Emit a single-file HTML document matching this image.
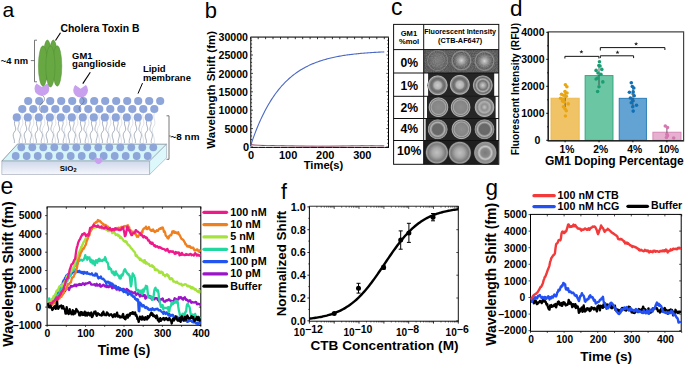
<!DOCTYPE html>
<html><head><meta charset="utf-8"><style>
html,body{margin:0;padding:0;background:#fff;}
svg{display:block;font-family:"Liberation Sans", sans-serif;}
</style></head><body>
<svg width="685" height="365" viewBox="0 0 685 365">
<rect width="685" height="365" fill="#fff"/>
<text x="2.6" y="17" font-size="21" font-weight="normal" text-anchor="start" fill="#000" >a</text>
<defs><linearGradient id="slabf" x1="0" y1="0" x2="0" y2="1"><stop offset="0" stop-color="#cfd7ea"/><stop offset="1" stop-color="#f5f7fc"/></linearGradient></defs>
<path d="M15.3,120 c-3,5 3,8 -1,12 c-3,4 1,7 0,11" fill="none" stroke="#6f7c94" stroke-width="0.6"/><path d="M18.3,120 c3,5 -3,8 1,12 c3,4 -1,7 0,11" fill="none" stroke="#7d8aa0" stroke-width="0.6"/><path d="M26.3,120 c-3,5 3,8 -1,12 c-3,4 1,7 0,11" fill="none" stroke="#6f7c94" stroke-width="0.6"/><path d="M29.3,120 c3,5 -3,8 1,12 c3,4 -1,7 0,11" fill="none" stroke="#7d8aa0" stroke-width="0.6"/><path d="M37.3,120 c-3,5 3,8 -1,12 c-3,4 1,7 0,11" fill="none" stroke="#6f7c94" stroke-width="0.6"/><path d="M40.3,120 c3,5 -3,8 1,12 c3,4 -1,7 0,11" fill="none" stroke="#7d8aa0" stroke-width="0.6"/><path d="M48.3,120 c-3,5 3,8 -1,12 c-3,4 1,7 0,11" fill="none" stroke="#6f7c94" stroke-width="0.6"/><path d="M51.3,120 c3,5 -3,8 1,12 c3,4 -1,7 0,11" fill="none" stroke="#7d8aa0" stroke-width="0.6"/><path d="M59.3,120 c-3,5 3,8 -1,12 c-3,4 1,7 0,11" fill="none" stroke="#6f7c94" stroke-width="0.6"/><path d="M62.3,120 c3,5 -3,8 1,12 c3,4 -1,7 0,11" fill="none" stroke="#7d8aa0" stroke-width="0.6"/><path d="M70.3,120 c-3,5 3,8 -1,12 c-3,4 1,7 0,11" fill="none" stroke="#6f7c94" stroke-width="0.6"/><path d="M73.3,120 c3,5 -3,8 1,12 c3,4 -1,7 0,11" fill="none" stroke="#7d8aa0" stroke-width="0.6"/><path d="M81.3,120 c-3,5 3,8 -1,12 c-3,4 1,7 0,11" fill="none" stroke="#6f7c94" stroke-width="0.6"/><path d="M84.3,120 c3,5 -3,8 1,12 c3,4 -1,7 0,11" fill="none" stroke="#7d8aa0" stroke-width="0.6"/><path d="M92.3,120 c-3,5 3,8 -1,12 c-3,4 1,7 0,11" fill="none" stroke="#6f7c94" stroke-width="0.6"/><path d="M95.3,120 c3,5 -3,8 1,12 c3,4 -1,7 0,11" fill="none" stroke="#7d8aa0" stroke-width="0.6"/><path d="M103.3,120 c-3,5 3,8 -1,12 c-3,4 1,7 0,11" fill="none" stroke="#6f7c94" stroke-width="0.6"/><path d="M106.3,120 c3,5 -3,8 1,12 c3,4 -1,7 0,11" fill="none" stroke="#7d8aa0" stroke-width="0.6"/><path d="M114.3,120 c-3,5 3,8 -1,12 c-3,4 1,7 0,11" fill="none" stroke="#6f7c94" stroke-width="0.6"/><path d="M117.3,120 c3,5 -3,8 1,12 c3,4 -1,7 0,11" fill="none" stroke="#7d8aa0" stroke-width="0.6"/><path d="M125.3,120 c-3,5 3,8 -1,12 c-3,4 1,7 0,11" fill="none" stroke="#6f7c94" stroke-width="0.6"/><path d="M128.3,120 c3,5 -3,8 1,12 c3,4 -1,7 0,11" fill="none" stroke="#7d8aa0" stroke-width="0.6"/><path d="M136.3,120 c-3,5 3,8 -1,12 c-3,4 1,7 0,11" fill="none" stroke="#6f7c94" stroke-width="0.6"/><path d="M139.3,120 c3,5 -3,8 1,12 c3,4 -1,7 0,11" fill="none" stroke="#7d8aa0" stroke-width="0.6"/><path d="M147.3,120 c-3,5 3,8 -1,12 c-3,4 1,7 0,11" fill="none" stroke="#6f7c94" stroke-width="0.6"/><path d="M150.3,120 c3,5 -3,8 1,12 c3,4 -1,7 0,11" fill="none" stroke="#7d8aa0" stroke-width="0.6"/><path d="M22.3,113 c-2,6 3,9 -1,14 c-3,5 2,9 1,16" fill="none" stroke="#b8c0cc" stroke-width="0.45"/><path d="M33.3,113 c-2,6 3,9 -1,14 c-3,5 2,9 1,16" fill="none" stroke="#b8c0cc" stroke-width="0.45"/><path d="M44.3,113 c-2,6 3,9 -1,14 c-3,5 2,9 1,16" fill="none" stroke="#b8c0cc" stroke-width="0.45"/><path d="M55.3,113 c-2,6 3,9 -1,14 c-3,5 2,9 1,16" fill="none" stroke="#b8c0cc" stroke-width="0.45"/><path d="M66.3,113 c-2,6 3,9 -1,14 c-3,5 2,9 1,16" fill="none" stroke="#b8c0cc" stroke-width="0.45"/><path d="M77.3,113 c-2,6 3,9 -1,14 c-3,5 2,9 1,16" fill="none" stroke="#b8c0cc" stroke-width="0.45"/><path d="M88.3,113 c-2,6 3,9 -1,14 c-3,5 2,9 1,16" fill="none" stroke="#b8c0cc" stroke-width="0.45"/><path d="M99.3,113 c-2,6 3,9 -1,14 c-3,5 2,9 1,16" fill="none" stroke="#b8c0cc" stroke-width="0.45"/><path d="M110.3,113 c-2,6 3,9 -1,14 c-3,5 2,9 1,16" fill="none" stroke="#b8c0cc" stroke-width="0.45"/><path d="M121.3,113 c-2,6 3,9 -1,14 c-3,5 2,9 1,16" fill="none" stroke="#b8c0cc" stroke-width="0.45"/><path d="M132.3,113 c-2,6 3,9 -1,14 c-3,5 2,9 1,16" fill="none" stroke="#b8c0cc" stroke-width="0.45"/><path d="M143.3,113 c-2,6 3,9 -1,14 c-3,5 2,9 1,16" fill="none" stroke="#b8c0cc" stroke-width="0.45"/><path d="M154.3,113 c-2,6 3,9 -1,14 c-3,5 2,9 1,16" fill="none" stroke="#b8c0cc" stroke-width="0.45"/>
<polygon points="1.8,161.1 17.5,144 166.6,144.2 149.6,161.1" fill="#d5f5f8" stroke="#5a6070" stroke-width="0.6"/>
<polygon points="1.8,161.1 149.6,161.1 149.6,174.5 1.8,174.5" fill="url(#slabf)" stroke="#9aa3b4" stroke-width="0.6"/>
<polygon points="149.6,161.1 166.6,144.2 166.6,157.8 149.6,174.5" fill="#dcf8fa" stroke="#9aa3b4" stroke-width="0.6"/>
<circle cx="28.2" cy="101" r="4.1" fill="#8ea5da"/><circle cx="39.2" cy="101" r="4.1" fill="#8ea5da"/><circle cx="50.2" cy="101" r="4.1" fill="#8ea5da"/><circle cx="61.2" cy="101" r="4.1" fill="#8ea5da"/><circle cx="72.2" cy="101" r="4.1" fill="#8ea5da"/><circle cx="83.2" cy="101" r="4.1" fill="#8ea5da"/><circle cx="94.2" cy="101" r="4.1" fill="#8ea5da"/><circle cx="105.2" cy="101" r="4.1" fill="#8ea5da"/><circle cx="116.2" cy="101" r="4.1" fill="#8ea5da"/><circle cx="127.2" cy="101" r="4.1" fill="#8ea5da"/><circle cx="138.2" cy="101" r="4.1" fill="#8ea5da"/><circle cx="149.2" cy="101" r="4.1" fill="#8ea5da"/><circle cx="160.2" cy="101" r="4.1" fill="#8ea5da"/><circle cx="22.3" cy="109" r="4.1" fill="#8ea5da"/><circle cx="33.3" cy="109" r="4.1" fill="#8ea5da"/><circle cx="44.3" cy="109" r="4.1" fill="#8ea5da"/><circle cx="55.3" cy="109" r="4.1" fill="#8ea5da"/><circle cx="66.3" cy="109" r="4.1" fill="#8ea5da"/><circle cx="77.3" cy="109" r="4.1" fill="#8ea5da"/><circle cx="88.3" cy="109" r="4.1" fill="#8ea5da"/><circle cx="99.3" cy="109" r="4.1" fill="#8ea5da"/><circle cx="110.3" cy="109" r="4.1" fill="#8ea5da"/><circle cx="121.3" cy="109" r="4.1" fill="#8ea5da"/><circle cx="132.3" cy="109" r="4.1" fill="#8ea5da"/><circle cx="143.3" cy="109" r="4.1" fill="#8ea5da"/><circle cx="154.3" cy="109" r="4.1" fill="#8ea5da"/><circle cx="16.8" cy="117.4" r="4.1" fill="#8ea5da"/><circle cx="27.8" cy="117.4" r="4.1" fill="#8ea5da"/><circle cx="38.8" cy="117.4" r="4.1" fill="#8ea5da"/><circle cx="49.8" cy="117.4" r="4.1" fill="#8ea5da"/><circle cx="60.8" cy="117.4" r="4.1" fill="#8ea5da"/><circle cx="71.8" cy="117.4" r="4.1" fill="#8ea5da"/><circle cx="82.8" cy="117.4" r="4.1" fill="#8ea5da"/><circle cx="93.8" cy="117.4" r="4.1" fill="#8ea5da"/><circle cx="104.8" cy="117.4" r="4.1" fill="#8ea5da"/><circle cx="115.8" cy="117.4" r="4.1" fill="#8ea5da"/><circle cx="126.8" cy="117.4" r="4.1" fill="#8ea5da"/><circle cx="137.8" cy="117.4" r="4.1" fill="#8ea5da"/><circle cx="148.8" cy="117.4" r="4.1" fill="#8ea5da"/><circle cx="21.3" cy="147.3" r="3.9" fill="#8ea5da"/><circle cx="32.3" cy="147.3" r="3.9" fill="#8ea5da"/><circle cx="43.3" cy="147.3" r="3.9" fill="#8ea5da"/><circle cx="54.3" cy="147.3" r="3.9" fill="#8ea5da"/><circle cx="65.3" cy="147.3" r="3.9" fill="#8ea5da"/><circle cx="76.3" cy="147.3" r="3.9" fill="#8ea5da"/><circle cx="87.3" cy="147.3" r="3.9" fill="#8ea5da"/><circle cx="98.3" cy="147.3" r="3.9" fill="#8ea5da"/><circle cx="109.3" cy="147.3" r="3.9" fill="#8ea5da"/><circle cx="120.3" cy="147.3" r="3.9" fill="#8ea5da"/><circle cx="131.3" cy="147.3" r="3.9" fill="#8ea5da"/><circle cx="142.3" cy="147.3" r="3.9" fill="#8ea5da"/><circle cx="153.3" cy="147.3" r="3.9" fill="#8ea5da"/><circle cx="15.7" cy="156" r="3.9" fill="#8ea5da"/><circle cx="26.7" cy="156" r="3.9" fill="#8ea5da"/><circle cx="37.7" cy="156" r="3.9" fill="#8ea5da"/><circle cx="48.7" cy="156" r="3.9" fill="#8ea5da"/><circle cx="59.7" cy="156" r="3.9" fill="#8ea5da"/><circle cx="70.7" cy="156" r="3.9" fill="#8ea5da"/><circle cx="81.7" cy="156" r="3.9" fill="#8ea5da"/><circle cx="92.7" cy="156" r="3.9" fill="#8ea5da"/><circle cx="103.7" cy="156" r="3.9" fill="#8ea5da"/><circle cx="114.7" cy="156" r="3.9" fill="#8ea5da"/><circle cx="125.7" cy="156" r="3.9" fill="#8ea5da"/><circle cx="136.7" cy="156" r="3.9" fill="#8ea5da"/><circle cx="147.7" cy="156" r="3.9" fill="#8ea5da"/>
<path d="M42,95 c4,3 3,6 -1,9 c-3,3 -2,6 1,9" fill="none" stroke="#555" stroke-width="0.5"/>
<path d="M81,97 c4,2 4,5 0,8 c-3,3 -2,5 0,7" fill="none" stroke="#555" stroke-width="0.5"/>
<path d="M41.90,87.10 L47.22,83.46 A7.4,7.4 0 1 1 36.58,83.46 Z" fill="#c8a0ee"/>
<path d="M80.60,88.70 L85.92,85.06 A7.4,7.4 0 1 1 75.28,85.06 Z" fill="#c8a0ee"/>
<path d="M98.50,158.50 L101.23,157.36 A3.8,3.8 0 1 1 95.77,157.36 Z" fill="#c8a0ee"/>
<g fill="#68a843" stroke="#4e8a30" stroke-width="0.45"><ellipse cx="47.4" cy="60" rx="4.2" ry="20"/><ellipse cx="53.3" cy="60" rx="4.2" ry="20"/><ellipse cx="43" cy="66" rx="4.6" ry="20.3"/><ellipse cx="57.2" cy="66" rx="4.6" ry="20.3"/><ellipse cx="50.4" cy="66.5" rx="4.6" ry="20.5"/></g>
<path d="M37,40.2 H34.5 V81.8 H37 M34.5,60.6 H30.8" fill="none" stroke="#555" stroke-width="0.8"/>
<text x="0.8" y="63.7" font-size="9.4" font-weight="bold" text-anchor="start" fill="#000" >~4 nm</text>
<path d="M166.5,115.8 H169 V159.3 H166.5 M169,136 H170.8" fill="none" stroke="#555" stroke-width="0.8"/>
<text x="170.6" y="140.1" font-size="9.9" font-weight="bold" text-anchor="start" fill="#000" >~8 nm</text>
<path d="M60.5,32.8 L55.5,40.5" stroke="#000" stroke-width="1.1"/>
<text x="60.5" y="32.1" font-size="10.4" font-weight="bold" text-anchor="start" fill="#000" >Cholera Toxin B</text>
<path d="M90.3,72.2 L82.8,83.6" stroke="#000" stroke-width="1.1"/>
<text x="72.1" y="58.5" font-size="9.4" font-weight="bold" text-anchor="start" fill="#000" >GM1</text>
<text x="72.1" y="67.4" font-size="9.7" font-weight="bold" text-anchor="start" fill="#000" >ganglioside</text>
<path d="M142.5,83.1 L138,93.6" stroke="#000" stroke-width="1"/>
<text x="142.9" y="72.1" font-size="9.5" font-weight="bold" text-anchor="start" fill="#000" >Lipid</text>
<text x="142.9" y="81.4" font-size="9.5" font-weight="bold" text-anchor="start" fill="#000" >membrane</text>
<text x="59.8" y="170.8" font-size="7.9" font-weight="bold" text-anchor="start" fill="#000" >SiO<tspan font-size="5.6" dy="1.6">2</tspan></text>
<text x="204.8" y="17.5" font-size="22" font-weight="normal" text-anchor="start" fill="#000" >b</text>
<rect x="250.8" y="37.2" width="137.7" height="110.2" fill="none" stroke="#000" stroke-width="1"/>
<path d="M250.8,37.2 H388.5" stroke="#666" stroke-width="1.4"/>
<text x="243" y="151.1" font-size="11" font-weight="bold" text-anchor="start" fill="#000" >0</text>
<text x="248" y="132.7" font-size="10.6" font-weight="bold" text-anchor="end" fill="#000" >5000</text>
<text x="248" y="114.3" font-size="10.6" font-weight="bold" text-anchor="end" fill="#000" >10000</text>
<text x="248" y="95.9" font-size="10.6" font-weight="bold" text-anchor="end" fill="#000" >15000</text>
<text x="248" y="77.5" font-size="10.6" font-weight="bold" text-anchor="end" fill="#000" >20000</text>
<text x="248" y="59.1" font-size="10.6" font-weight="bold" text-anchor="end" fill="#000" >25000</text>
<text x="248" y="40.70000000000001" font-size="10.6" font-weight="bold" text-anchor="end" fill="#000" >30000</text>
<path d="M250.8,147.0 h2.2" stroke="#000" stroke-width="0.7"/><path d="M388.5,147.0 h-2.2" stroke="#000" stroke-width="0.7"/>
<path d="M250.8,143.3 h1.3" stroke="#000" stroke-width="0.7"/><path d="M388.5,143.3 h-1.3" stroke="#000" stroke-width="0.7"/>
<path d="M250.8,139.6 h1.3" stroke="#000" stroke-width="0.7"/><path d="M388.5,139.6 h-1.3" stroke="#000" stroke-width="0.7"/>
<path d="M250.8,136.0 h1.3" stroke="#000" stroke-width="0.7"/><path d="M388.5,136.0 h-1.3" stroke="#000" stroke-width="0.7"/>
<path d="M250.8,132.3 h1.3" stroke="#000" stroke-width="0.7"/><path d="M388.5,132.3 h-1.3" stroke="#000" stroke-width="0.7"/>
<path d="M250.8,128.6 h2.2" stroke="#000" stroke-width="0.7"/><path d="M388.5,128.6 h-2.2" stroke="#000" stroke-width="0.7"/>
<path d="M250.8,124.9 h1.3" stroke="#000" stroke-width="0.7"/><path d="M388.5,124.9 h-1.3" stroke="#000" stroke-width="0.7"/>
<path d="M250.8,121.2 h1.3" stroke="#000" stroke-width="0.7"/><path d="M388.5,121.2 h-1.3" stroke="#000" stroke-width="0.7"/>
<path d="M250.8,117.6 h1.3" stroke="#000" stroke-width="0.7"/><path d="M388.5,117.6 h-1.3" stroke="#000" stroke-width="0.7"/>
<path d="M250.8,113.9 h1.3" stroke="#000" stroke-width="0.7"/><path d="M388.5,113.9 h-1.3" stroke="#000" stroke-width="0.7"/>
<path d="M250.8,110.2 h2.2" stroke="#000" stroke-width="0.7"/><path d="M388.5,110.2 h-2.2" stroke="#000" stroke-width="0.7"/>
<path d="M250.8,106.5 h1.3" stroke="#000" stroke-width="0.7"/><path d="M388.5,106.5 h-1.3" stroke="#000" stroke-width="0.7"/>
<path d="M250.8,102.8 h1.3" stroke="#000" stroke-width="0.7"/><path d="M388.5,102.8 h-1.3" stroke="#000" stroke-width="0.7"/>
<path d="M250.8,99.2 h1.3" stroke="#000" stroke-width="0.7"/><path d="M388.5,99.2 h-1.3" stroke="#000" stroke-width="0.7"/>
<path d="M250.8,95.5 h1.3" stroke="#000" stroke-width="0.7"/><path d="M388.5,95.5 h-1.3" stroke="#000" stroke-width="0.7"/>
<path d="M250.8,91.8 h2.2" stroke="#000" stroke-width="0.7"/><path d="M388.5,91.8 h-2.2" stroke="#000" stroke-width="0.7"/>
<path d="M250.8,88.1 h1.3" stroke="#000" stroke-width="0.7"/><path d="M388.5,88.1 h-1.3" stroke="#000" stroke-width="0.7"/>
<path d="M250.8,84.4 h1.3" stroke="#000" stroke-width="0.7"/><path d="M388.5,84.4 h-1.3" stroke="#000" stroke-width="0.7"/>
<path d="M250.8,80.8 h1.3" stroke="#000" stroke-width="0.7"/><path d="M388.5,80.8 h-1.3" stroke="#000" stroke-width="0.7"/>
<path d="M250.8,77.1 h1.3" stroke="#000" stroke-width="0.7"/><path d="M388.5,77.1 h-1.3" stroke="#000" stroke-width="0.7"/>
<path d="M250.8,73.4 h2.2" stroke="#000" stroke-width="0.7"/><path d="M388.5,73.4 h-2.2" stroke="#000" stroke-width="0.7"/>
<path d="M250.8,69.7 h1.3" stroke="#000" stroke-width="0.7"/><path d="M388.5,69.7 h-1.3" stroke="#000" stroke-width="0.7"/>
<path d="M250.8,66.0 h1.3" stroke="#000" stroke-width="0.7"/><path d="M388.5,66.0 h-1.3" stroke="#000" stroke-width="0.7"/>
<path d="M250.8,62.4 h1.3" stroke="#000" stroke-width="0.7"/><path d="M388.5,62.4 h-1.3" stroke="#000" stroke-width="0.7"/>
<path d="M250.8,58.7 h1.3" stroke="#000" stroke-width="0.7"/><path d="M388.5,58.7 h-1.3" stroke="#000" stroke-width="0.7"/>
<path d="M250.8,55.0 h2.2" stroke="#000" stroke-width="0.7"/><path d="M388.5,55.0 h-2.2" stroke="#000" stroke-width="0.7"/>
<path d="M250.8,51.3 h1.3" stroke="#000" stroke-width="0.7"/><path d="M388.5,51.3 h-1.3" stroke="#000" stroke-width="0.7"/>
<path d="M250.8,47.6 h1.3" stroke="#000" stroke-width="0.7"/><path d="M388.5,47.6 h-1.3" stroke="#000" stroke-width="0.7"/>
<path d="M250.8,44.0 h1.3" stroke="#000" stroke-width="0.7"/><path d="M388.5,44.0 h-1.3" stroke="#000" stroke-width="0.7"/>
<path d="M250.8,40.3 h1.3" stroke="#000" stroke-width="0.7"/><path d="M388.5,40.3 h-1.3" stroke="#000" stroke-width="0.7"/>
<path d="M250.8,147.4 v-1.5" stroke="#fff" stroke-width="0.8"/><path d="M250.8,37.2 v2" stroke="#000" stroke-width="0.8"/>
<path d="M258.2,147.4 v-1.5" stroke="#fff" stroke-width="0.8"/><path d="M258.2,37.2 v2" stroke="#000" stroke-width="0.8"/>
<path d="M265.6,147.4 v-1.5" stroke="#fff" stroke-width="0.8"/><path d="M265.6,37.2 v2" stroke="#000" stroke-width="0.8"/>
<path d="M273.0,147.4 v-1.5" stroke="#fff" stroke-width="0.8"/><path d="M273.0,37.2 v2" stroke="#000" stroke-width="0.8"/>
<path d="M280.5,147.4 v-1.5" stroke="#fff" stroke-width="0.8"/><path d="M280.5,37.2 v2" stroke="#000" stroke-width="0.8"/>
<path d="M287.9,147.4 v-1.5" stroke="#fff" stroke-width="0.8"/><path d="M287.9,37.2 v2" stroke="#000" stroke-width="0.8"/>
<path d="M295.3,147.4 v-1.5" stroke="#fff" stroke-width="0.8"/><path d="M295.3,37.2 v2" stroke="#000" stroke-width="0.8"/>
<path d="M302.7,147.4 v-1.5" stroke="#fff" stroke-width="0.8"/><path d="M302.7,37.2 v2" stroke="#000" stroke-width="0.8"/>
<path d="M310.1,147.4 v-1.5" stroke="#fff" stroke-width="0.8"/><path d="M310.1,37.2 v2" stroke="#000" stroke-width="0.8"/>
<path d="M317.5,147.4 v-1.5" stroke="#fff" stroke-width="0.8"/><path d="M317.5,37.2 v2" stroke="#000" stroke-width="0.8"/>
<path d="M324.9,147.4 v-1.5" stroke="#fff" stroke-width="0.8"/><path d="M324.9,37.2 v2" stroke="#000" stroke-width="0.8"/>
<path d="M332.4,147.4 v-1.5" stroke="#fff" stroke-width="0.8"/><path d="M332.4,37.2 v2" stroke="#000" stroke-width="0.8"/>
<path d="M339.8,147.4 v-1.5" stroke="#fff" stroke-width="0.8"/><path d="M339.8,37.2 v2" stroke="#000" stroke-width="0.8"/>
<path d="M347.2,147.4 v-1.5" stroke="#fff" stroke-width="0.8"/><path d="M347.2,37.2 v2" stroke="#000" stroke-width="0.8"/>
<path d="M354.6,147.4 v-1.5" stroke="#fff" stroke-width="0.8"/><path d="M354.6,37.2 v2" stroke="#000" stroke-width="0.8"/>
<path d="M362.0,147.4 v-1.5" stroke="#fff" stroke-width="0.8"/><path d="M362.0,37.2 v2" stroke="#000" stroke-width="0.8"/>
<path d="M369.4,147.4 v-1.5" stroke="#fff" stroke-width="0.8"/><path d="M369.4,37.2 v2" stroke="#000" stroke-width="0.8"/>
<path d="M376.8,147.4 v-1.5" stroke="#fff" stroke-width="0.8"/><path d="M376.8,37.2 v2" stroke="#000" stroke-width="0.8"/>
<path d="M384.3,147.4 v-1.5" stroke="#fff" stroke-width="0.8"/><path d="M384.3,37.2 v2" stroke="#000" stroke-width="0.8"/>
<text x="251.10000000000002" y="158.8" font-size="11" font-weight="bold" text-anchor="middle" fill="#000" >0</text>
<text x="288.17" y="158.8" font-size="11" font-weight="bold" text-anchor="middle" fill="#000" >100</text>
<text x="325.24" y="158.8" font-size="11" font-weight="bold" text-anchor="middle" fill="#000" >200</text>
<text x="362.31" y="158.8" font-size="11" font-weight="bold" text-anchor="middle" fill="#000" >300</text>
<text x="323.5" y="169.2" font-size="11.2" font-weight="bold" text-anchor="middle" fill="#000" >Time(s)</text>
<text x="0" y="0" font-size="11.5" font-weight="bold" text-anchor="middle" transform="translate(215.4,89.8) rotate(-90)">Wavelength Shift (fm)</text>
<path d="M250.80,145.10 L251.91,141.82 L253.02,138.65 L254.14,135.60 L255.25,132.65 L256.36,129.80 L257.47,127.05 L258.58,124.40 L259.70,121.84 L260.81,119.36 L261.92,116.97 L263.03,114.67 L264.15,112.45 L265.26,110.30 L266.37,108.23 L267.48,106.22 L268.59,104.29 L269.71,102.43 L270.82,100.63 L271.93,98.89 L273.04,97.21 L274.15,95.59 L275.27,94.03 L276.38,92.52 L277.49,91.07 L278.60,89.66 L279.71,88.30 L280.83,86.99 L281.94,85.73 L283.05,84.51 L284.16,83.33 L285.28,82.19 L286.39,81.09 L287.50,80.03 L288.61,79.01 L289.72,78.02 L290.84,77.07 L291.95,76.15 L293.06,75.26 L294.17,74.40 L295.28,73.57 L296.40,72.77 L297.51,72.00 L298.62,71.26 L299.73,70.54 L300.84,69.84 L301.96,69.17 L303.07,68.53 L304.18,67.90 L305.29,67.30 L306.41,66.72 L307.52,66.16 L308.63,65.62 L309.74,65.09 L310.85,64.59 L311.97,64.10 L313.08,63.63 L314.19,63.17 L315.30,62.74 L316.41,62.31 L317.53,61.90 L318.64,61.51 L319.75,61.13 L320.86,60.76 L321.97,60.40 L323.09,60.06 L324.20,59.73 L325.31,59.41 L326.42,59.10 L327.53,58.81 L328.65,58.52 L329.76,58.24 L330.87,57.97 L331.98,57.72 L333.10,57.47 L334.21,57.23 L335.32,56.99 L336.43,56.77 L337.54,56.55 L338.66,56.34 L339.77,56.14 L340.88,55.95 L341.99,55.76 L343.10,55.58 L344.22,55.40 L345.33,55.23 L346.44,55.07 L347.55,54.91 L348.66,54.76 L349.78,54.61 L350.89,54.47 L352.00,54.33 L353.11,54.20 L354.23,54.07 L355.34,53.95 L356.45,53.83 L357.56,53.72 L358.67,53.61 L359.79,53.50 L360.90,53.40 L362.01,53.30 L363.12,53.20 L364.23,53.11 L365.35,53.02 L366.46,52.93 L367.57,52.85 L368.68,52.77 L369.79,52.69 L370.91,52.61 L372.02,52.54 L373.13,52.47 L374.24,52.40 L375.36,52.34 L376.47,52.28 L377.58,52.22 L378.69,52.16 L379.80,52.10 L380.92,52.05 L382.03,51.99 L383.14,51.94 L384.25,51.89" fill="none" stroke="#4a68c4" stroke-width="1.1"/>
<path d="M250.80,144.65 L251.91,144.78 L253.02,144.89 L254.14,144.99 L255.25,145.08 L256.36,145.15 L257.47,145.21 L258.58,145.27 L259.70,145.32 L260.81,145.36 L261.92,145.40 L263.03,145.43 L264.15,145.46 L265.26,145.48 L266.37,145.51 L267.48,145.53 L268.59,145.54 L269.71,145.56 L270.82,145.57 L271.93,145.59 L273.04,145.60 L274.15,145.61 L275.27,145.63 L276.38,145.64 L277.49,145.65 L278.60,145.66 L279.71,145.68 L280.83,145.69 L281.94,145.70 L283.05,145.72 L284.16,145.73 L285.28,145.75 L286.39,145.76 L287.50,145.78 L288.61,145.79 L289.72,145.81 L290.84,145.83 L291.95,145.84 L293.06,145.86 L294.17,145.88 L295.28,145.90 L296.40,145.91 L297.51,145.93 L298.62,145.95 L299.73,145.97 L300.84,145.98 L301.96,146.00 L303.07,146.02 L304.18,146.03 L305.29,146.05 L306.41,146.06 L307.52,146.07 L308.63,146.09 L309.74,146.10 L310.85,146.11 L311.97,146.12 L313.08,146.13 L314.19,146.14 L315.30,146.14 L316.41,146.15 L317.53,146.15 L318.64,146.16 L319.75,146.16 L320.86,146.16 L321.97,146.16 L323.09,146.15 L324.20,146.15 L325.31,146.15 L326.42,146.14 L327.53,146.13 L328.65,146.13 L329.76,146.12 L330.87,146.11 L331.98,146.10 L333.10,146.09 L334.21,146.07 L335.32,146.06 L336.43,146.04 L337.54,146.03 L338.66,146.01 L339.77,146.00 L340.88,145.98 L341.99,145.97 L343.10,145.95 L344.22,145.93 L345.33,145.92 L346.44,145.90 L347.55,145.88 L348.66,145.87 L349.78,145.85 L350.89,145.84 L352.00,145.82 L353.11,145.81 L354.23,145.80 L355.34,145.78 L356.45,145.77 L357.56,145.76 L358.67,145.75 L359.79,145.74 L360.90,145.74 L362.01,145.73 L363.12,145.73 L364.23,145.72 L365.35,145.72 L366.46,145.72 L367.57,145.72 L368.68,145.72 L369.79,145.72 L370.91,145.72 L372.02,145.73 L373.13,145.73 L374.24,145.74 L375.36,145.75 L376.47,145.76 L377.58,145.77 L378.69,145.78 L379.80,145.79 L380.92,145.80 L382.03,145.82 L383.14,145.83 L384.25,145.85" fill="none" stroke="#8a3a55" stroke-width="1"/>
<text x="391" y="15.4" font-size="23" font-weight="normal" text-anchor="start" fill="#000" >c</text>
<defs><radialGradient id="w0a" cx="0.5" cy="0.5" r="0.5"><stop offset="0" stop-color="#7a7a7a"/><stop offset="0.6" stop-color="#6a6a6a"/><stop offset="0.85" stop-color="#5a5a5a"/><stop offset="0.93" stop-color="#7a7a7a"/><stop offset="1" stop-color="#555"/></radialGradient><radialGradient id="w0b" cx="0.5" cy="0.5" r="0.5"><stop offset="0" stop-color="#d8d8d8"/><stop offset="0.2" stop-color="#b0b0b0"/><stop offset="0.45" stop-color="#808080"/><stop offset="0.75" stop-color="#555"/><stop offset="0.86" stop-color="#8a8a8a"/><stop offset="0.93" stop-color="#666"/><stop offset="1" stop-color="#4c4c4c"/></radialGradient><radialGradient id="w1" cx="0.5" cy="0.5" r="0.5"><stop offset="0" stop-color="#cccccc"/><stop offset="0.35" stop-color="#b2b2b2"/><stop offset="0.5" stop-color="#7a7a7a"/><stop offset="0.66" stop-color="#6a6a6a"/><stop offset="0.8" stop-color="#8a8a8a"/><stop offset="0.9" stop-color="#b4b4b4"/><stop offset="0.97" stop-color="#5a5a5a"/><stop offset="1" stop-color="#2c2c2c"/></radialGradient><radialGradient id="w1c" cx="0.5" cy="0.5" r="0.5"><stop offset="0" stop-color="#cfcfcf"/><stop offset="0.25" stop-color="#a0a0a0"/><stop offset="0.45" stop-color="#707070"/><stop offset="0.6" stop-color="#b0b0b0"/><stop offset="0.75" stop-color="#6a6a6a"/><stop offset="0.9" stop-color="#a8a8a8"/><stop offset="1" stop-color="#2c2c2c"/></radialGradient><radialGradient id="w2" cx="0.5" cy="0.5" r="0.5"><stop offset="0" stop-color="#8e8e8e"/><stop offset="0.6" stop-color="#858585"/><stop offset="0.72" stop-color="#a8a8a8"/><stop offset="0.8" stop-color="#7a7a7a"/><stop offset="0.9" stop-color="#b0b0b0"/><stop offset="1" stop-color="#2c2c2c"/></radialGradient><radialGradient id="w2c" cx="0.5" cy="0.5" r="0.5"><stop offset="0" stop-color="#c4c4c4"/><stop offset="0.3" stop-color="#909090"/><stop offset="0.55" stop-color="#b0b0b0"/><stop offset="0.7" stop-color="#808080"/><stop offset="0.9" stop-color="#b0b0b0"/><stop offset="1" stop-color="#2c2c2c"/></radialGradient><radialGradient id="w4" cx="0.5" cy="0.5" r="0.5"><stop offset="0" stop-color="#6a6a6a"/><stop offset="0.5" stop-color="#686868"/><stop offset="0.68" stop-color="#b4b4b4"/><stop offset="0.8" stop-color="#7c7c7c"/><stop offset="0.92" stop-color="#9a9a9a"/><stop offset="1" stop-color="#2a2a2a"/></radialGradient><radialGradient id="w10" cx="0.5" cy="0.5" r="0.5"><stop offset="0" stop-color="#c0c0c0"/><stop offset="0.4" stop-color="#a8a8a8"/><stop offset="0.75" stop-color="#7a7a7a"/><stop offset="0.9" stop-color="#a0a0a0"/><stop offset="1" stop-color="#2e2e2e"/></radialGradient><radialGradient id="w10c" cx="0.5" cy="0.5" r="0.5"><stop offset="0" stop-color="#7a7a7a"/><stop offset="0.38" stop-color="#8a8a8a"/><stop offset="0.55" stop-color="#c8c8c8"/><stop offset="0.7" stop-color="#8a8a8a"/><stop offset="0.92" stop-color="#9a9a9a"/><stop offset="1" stop-color="#2e2e2e"/></radialGradient><filter id="grain" x="0" y="0" width="1" height="1"><feTurbulence type="fractalNoise" baseFrequency="0.9" numOctaves="2" seed="3"/><feColorMatrix type="matrix" values="0 0 0 0 0.45  0 0 0 0 0.45  0 0 0 0 0.45  0 0 0 1.2 -0.35"/><feComposite in2="SourceGraphic" operator="in"/></filter></defs>
<rect x="423.7" y="49.6" width="75.1" height="23.4" fill="#545454"/>
<circle cx="437.7" cy="60.5" r="10.8" fill="url(#w0a)"/>
<circle cx="461.4" cy="60.5" r="10.8" fill="url(#w0b)"/>
<circle cx="484.5" cy="61" r="10.8" fill="url(#w0b)"/>
<rect x="423.7" y="49.6" width="75.1" height="23.4" fill="#000" filter="url(#grain)" opacity="0.5"/>
<rect x="428.1" y="73" width="66.1" height="23.3" fill="#262626"/>
<circle cx="437.7" cy="85.3" r="10.4" fill="url(#w1)"/>
<circle cx="459.8" cy="84.8" r="10.4" fill="url(#w1)"/>
<circle cx="482.8" cy="85.3" r="10.4" fill="url(#w1c)"/>
<rect x="427" y="96.3" width="68.6" height="22.2" fill="#262626"/>
<circle cx="438.5" cy="107.2" r="10.3" fill="url(#w2)"/>
<circle cx="460.6" cy="107.2" r="10.3" fill="url(#w2)"/>
<circle cx="484.5" cy="107.2" r="10.3" fill="url(#w2c)"/>
<rect x="425.6" y="118.5" width="70.7" height="22.0" fill="#242424"/>
<circle cx="437.7" cy="129.3" r="10.3" fill="url(#w4)"/>
<circle cx="461.4" cy="129.3" r="10.3" fill="url(#w2)"/>
<circle cx="484.5" cy="129.3" r="10.3" fill="url(#w4)"/>
<rect x="423.7" y="140.5" width="74.7" height="23.8" fill="#1e1e1e"/>
<circle cx="436.9" cy="152.5" r="11.6" fill="url(#w10)"/>
<circle cx="459.8" cy="152.8" r="11.6" fill="url(#w10)"/>
<circle cx="485.3" cy="152.8" r="11.6" fill="url(#w10c)"/>
<rect x="393.6" y="24.4" width="105.19999999999999" height="139.9" fill="none" stroke="#111" stroke-width="1"/>
<path d="M423.7,24.4 V164.3" stroke="#111" stroke-width="1"/>
<path d="M393.6,49.6 H498.8" stroke="#111" stroke-width="1"/>
<path d="M393.6,73 H498.8" stroke="#111" stroke-width="1"/>
<path d="M393.6,96.3 H498.8" stroke="#111" stroke-width="1"/>
<path d="M393.6,118.5 H498.8" stroke="#111" stroke-width="1"/>
<path d="M393.6,140.5 H498.8" stroke="#111" stroke-width="1"/>
<text x="408.9" y="36.4" font-size="7.6" font-weight="bold" text-anchor="middle" fill="#000" >GM1</text>
<text x="409.1" y="43.8" font-size="7.6" font-weight="bold" text-anchor="middle" fill="#000" >%mol</text>
<text x="460.1" y="34" font-size="7.15" font-weight="bold" text-anchor="middle" fill="#000" >Fluorescent Intensity</text>
<text x="460.1" y="43" font-size="7.3" font-weight="bold" text-anchor="middle" fill="#000" >(CTB-AF647)</text>
<text x="409.2" y="66.9" font-size="12.2" font-weight="bold" text-anchor="middle" fill="#000" >0%</text>
<text x="409.2" y="89.7" font-size="12.2" font-weight="bold" text-anchor="middle" fill="#000" >1%</text>
<text x="409.2" y="112.4" font-size="12.2" font-weight="bold" text-anchor="middle" fill="#000" >2%</text>
<text x="409.2" y="133.1" font-size="12.2" font-weight="bold" text-anchor="middle" fill="#000" >4%</text>
<text x="409.2" y="155.3" font-size="12.2" font-weight="bold" text-anchor="middle" fill="#000" >10%</text>
<text x="510" y="15.8" font-size="22.5" font-weight="normal" text-anchor="start" fill="#000" >d</text>
<rect x="551" y="98.2" width="28.2" height="42.1" fill="#f0c466" stroke="#eeb84a" stroke-width="0.9"/>
<rect x="585.1" y="75.6" width="27.9" height="64.7" fill="#6bc6a4" stroke="#2aa37a" stroke-width="0.9"/>
<rect x="619.2" y="98.3" width="27.2" height="42.0" fill="#62a3d4" stroke="#1f76b4" stroke-width="0.9"/>
<rect x="652.9" y="132.2" width="28.1" height="8.1" fill="#e6b1d1" stroke="#d582b4" stroke-width="0.9"/>
<path d="M565.1,90 V107 M599,66 V85 M632.9,87 V107 M666.9,127.5 V137 M630.9,94 h4 M630.9,101 h4" stroke="#222" stroke-width="0.7"/>
<circle cx="565.4" cy="84.8" r="1.8" fill="#e9a612"/>
<circle cx="566.9" cy="86.7" r="1.8" fill="#e9a612"/>
<circle cx="565" cy="91.5" r="1.8" fill="#e9a612"/>
<circle cx="561.5" cy="94.3" r="1.8" fill="#e9a612"/>
<circle cx="563.4" cy="95.3" r="1.8" fill="#e9a612"/>
<circle cx="566.3" cy="96.3" r="1.8" fill="#e9a612"/>
<circle cx="560.6" cy="98.2" r="1.8" fill="#e9a612"/>
<circle cx="562.5" cy="101.1" r="1.8" fill="#e9a612"/>
<circle cx="564.4" cy="102" r="1.8" fill="#e9a612"/>
<circle cx="568.2" cy="103.9" r="1.8" fill="#e9a612"/>
<circle cx="563.4" cy="106.8" r="1.8" fill="#e9a612"/>
<circle cx="565" cy="108.7" r="1.8" fill="#e9a612"/>
<circle cx="566.3" cy="110.7" r="1.8" fill="#e9a612"/>
<circle cx="565.4" cy="116" r="1.8" fill="#e9a612"/>
<circle cx="563" cy="99" r="1.8" fill="#e9a612"/>
<circle cx="567" cy="93" r="1.8" fill="#e9a612"/>
<circle cx="599.5" cy="61.7" r="1.8" fill="#1a9d72"/>
<circle cx="598.9" cy="65.6" r="1.8" fill="#1a9d72"/>
<circle cx="601.8" cy="69.4" r="1.8" fill="#1a9d72"/>
<circle cx="596.1" cy="70.4" r="1.8" fill="#1a9d72"/>
<circle cx="600.9" cy="74.2" r="1.8" fill="#1a9d72"/>
<circle cx="597.6" cy="78" r="1.8" fill="#1a9d72"/>
<circle cx="596.1" cy="79" r="1.8" fill="#1a9d72"/>
<circle cx="602.8" cy="81.9" r="1.8" fill="#1a9d72"/>
<circle cx="599" cy="86.7" r="1.8" fill="#1a9d72"/>
<circle cx="597.6" cy="91.5" r="1.8" fill="#1a9d72"/>
<circle cx="600" cy="66" r="1.8" fill="#1a9d72"/>
<circle cx="598" cy="73" r="1.8" fill="#1a9d72"/>
<circle cx="631.3" cy="82.7" r="1.8" fill="#0f70b6"/>
<circle cx="632.3" cy="86.5" r="1.8" fill="#0f70b6"/>
<circle cx="633.8" cy="88" r="1.8" fill="#0f70b6"/>
<circle cx="629.4" cy="92.3" r="1.8" fill="#0f70b6"/>
<circle cx="633.2" cy="91.9" r="1.8" fill="#0f70b6"/>
<circle cx="634.2" cy="95.7" r="1.8" fill="#0f70b6"/>
<circle cx="630.4" cy="98" r="1.8" fill="#0f70b6"/>
<circle cx="632.7" cy="100" r="1.8" fill="#0f70b6"/>
<circle cx="631.3" cy="102.8" r="1.8" fill="#0f70b6"/>
<circle cx="636.5" cy="105.3" r="1.8" fill="#0f70b6"/>
<circle cx="632.7" cy="106.7" r="1.8" fill="#0f70b6"/>
<circle cx="633.2" cy="111.1" r="1.8" fill="#0f70b6"/>
<circle cx="665.3" cy="126" r="1.8" fill="#d678b0"/>
<circle cx="667.5" cy="127.6" r="1.8" fill="#d678b0"/>
<circle cx="666.9" cy="134.2" r="1.8" fill="#d678b0"/>
<circle cx="667.5" cy="135.8" r="1.8" fill="#d678b0"/>
<circle cx="666.4" cy="137.5" r="1.8" fill="#d678b0"/>
<circle cx="673.7" cy="138" r="1.8" fill="#d678b0"/>
<path d="M548.2,140.8 H683.6 V31.9 H548.2 Z" fill="none" stroke="#444" stroke-width="1.2"/>
<path d="M548.2,31.9 V140.8 H683.6" fill="none" stroke="#111" stroke-width="1.1"/>
<text x="540.3" y="144.20000000000002" font-size="10.6" font-weight="bold" text-anchor="end" fill="#000" >0</text>
<path d="M548.2,140.3 h-2" stroke="#000" stroke-width="0.9"/>
<path d="M548.2,126.8 h-1.2" stroke="#000" stroke-width="0.7"/>
<text x="544.5" y="117.20000000000002" font-size="10.5" font-weight="bold" text-anchor="end" fill="#000" >1000</text>
<path d="M548.2,113.3 h-2" stroke="#000" stroke-width="0.9"/>
<path d="M548.2,99.8 h-1.2" stroke="#000" stroke-width="0.7"/>
<text x="544.5" y="90.20000000000002" font-size="10.5" font-weight="bold" text-anchor="end" fill="#000" >2000</text>
<path d="M548.2,86.3 h-2" stroke="#000" stroke-width="0.9"/>
<path d="M548.2,72.8 h-1.2" stroke="#000" stroke-width="0.7"/>
<text x="544.5" y="63.20000000000001" font-size="10.5" font-weight="bold" text-anchor="end" fill="#000" >3000</text>
<path d="M548.2,59.3 h-2" stroke="#000" stroke-width="0.9"/>
<path d="M548.2,45.8 h-1.2" stroke="#000" stroke-width="0.7"/>
<text x="544.5" y="36.20000000000001" font-size="10.5" font-weight="bold" text-anchor="end" fill="#000" >4000</text>
<path d="M548.2,32.3 h-2" stroke="#000" stroke-width="0.9"/>
<text x="566.9" y="153" font-size="10.3" font-weight="bold" text-anchor="middle" fill="#000" >1%</text>
<path d="M565.1,140.8 v1.5" stroke="#000" stroke-width="0.9"/>
<text x="600.8" y="153" font-size="10.3" font-weight="bold" text-anchor="middle" fill="#000" >2%</text>
<path d="M599,140.8 v1.5" stroke="#000" stroke-width="0.9"/>
<text x="634.6999999999999" y="153" font-size="10.3" font-weight="bold" text-anchor="middle" fill="#000" >4%</text>
<path d="M632.9,140.8 v1.5" stroke="#000" stroke-width="0.9"/>
<text x="668.6999999999999" y="153" font-size="10.3" font-weight="bold" text-anchor="middle" fill="#000" >10%</text>
<path d="M666.9,140.8 v1.5" stroke="#000" stroke-width="0.9"/>
<text x="614.3" y="165.2" font-size="12.0" font-weight="bold" text-anchor="middle" fill="#000" >GM1 Doping Percentage</text>
<text x="0" y="0" font-size="10.15" font-weight="bold" text-anchor="middle" transform="translate(518.8,89.1) rotate(-90)">Fluorescent Intensity (RFU)</text>
<g fill="none" stroke="#111" stroke-width="1"><path d="M564.9,58.5 V56.35 H598.9 V58.5"/><path d="M600.3,58.1 V55.8 H633.6 V58.1"/><path d="M600.3,50.5 V47.6 H664.9 V50"/></g>
<polygon points="581.40,49.80 581.96,51.14 583.40,51.25 582.30,52.19 582.63,53.60 581.40,52.84 580.17,53.60 580.50,52.19 579.40,51.25 580.84,51.14" fill="#222"/>
<polygon points="617.50,50.30 618.06,51.64 619.50,51.75 618.40,52.69 618.73,54.10 617.50,53.34 616.27,54.10 616.60,52.69 615.50,51.75 616.94,51.64" fill="#222"/>
<polygon points="636.10,41.80 636.66,43.14 638.10,43.25 637.00,44.19 637.33,45.60 636.10,44.84 634.87,45.60 635.20,44.19 634.10,43.25 635.54,43.14" fill="#222"/>
<text x="0.5" y="194.2" font-size="23" font-weight="normal" text-anchor="start" fill="#000" >e</text>
<rect x="47.1" y="206.9" width="153.70000000000002" height="118.4" fill="none" stroke="#000" stroke-width="1"/>
<text x="41.8" y="329.20000000000005" font-size="10.4" font-weight="bold" text-anchor="end" fill="#000" >&#8722;1000</text>
<path d="M47.1,325.4 h-2" stroke="#000" stroke-width="0.7"/><path d="M200.8,325.4 h-2" stroke="#000" stroke-width="0.7"/>
<text x="41.4" y="310.90000000000003" font-size="10.4" font-weight="bold" text-anchor="end" fill="#000" >0</text>
<path d="M47.1,307.1 h-2" stroke="#000" stroke-width="0.7"/><path d="M200.8,307.1 h-2" stroke="#000" stroke-width="0.7"/>
<text x="41.8" y="292.6" font-size="10.4" font-weight="bold" text-anchor="end" fill="#000" >1000</text>
<path d="M47.1,288.8 h-2" stroke="#000" stroke-width="0.7"/><path d="M200.8,288.8 h-2" stroke="#000" stroke-width="0.7"/>
<text x="41.8" y="274.3" font-size="10.4" font-weight="bold" text-anchor="end" fill="#000" >2000</text>
<path d="M47.1,270.5 h-2" stroke="#000" stroke-width="0.7"/><path d="M200.8,270.5 h-2" stroke="#000" stroke-width="0.7"/>
<text x="41.8" y="256.0" font-size="10.4" font-weight="bold" text-anchor="end" fill="#000" >3000</text>
<path d="M47.1,252.2 h-2" stroke="#000" stroke-width="0.7"/><path d="M200.8,252.2 h-2" stroke="#000" stroke-width="0.7"/>
<text x="41.8" y="237.70000000000005" font-size="10.4" font-weight="bold" text-anchor="end" fill="#000" >4000</text>
<path d="M47.1,233.9 h-2" stroke="#000" stroke-width="0.7"/><path d="M200.8,233.9 h-2" stroke="#000" stroke-width="0.7"/>
<text x="41.8" y="219.40000000000003" font-size="10.4" font-weight="bold" text-anchor="end" fill="#000" >5000</text>
<path d="M47.1,215.6 h-2" stroke="#000" stroke-width="0.7"/><path d="M200.8,215.6 h-2" stroke="#000" stroke-width="0.7"/>
<path d="M47.1,325.3 v1.6" stroke="#000" stroke-width="0.7"/><path d="M47.1,206.9 v2" stroke="#000" stroke-width="0.7"/>
<path d="M66.3,325.3 v1.6" stroke="#000" stroke-width="0.7"/><path d="M66.3,206.9 v2" stroke="#000" stroke-width="0.7"/>
<path d="M85.5,325.3 v1.6" stroke="#000" stroke-width="0.7"/><path d="M85.5,206.9 v2" stroke="#000" stroke-width="0.7"/>
<path d="M104.7,325.3 v1.6" stroke="#000" stroke-width="0.7"/><path d="M104.7,206.9 v2" stroke="#000" stroke-width="0.7"/>
<path d="M124.0,325.3 v1.6" stroke="#000" stroke-width="0.7"/><path d="M124.0,206.9 v2" stroke="#000" stroke-width="0.7"/>
<path d="M143.2,325.3 v1.6" stroke="#000" stroke-width="0.7"/><path d="M143.2,206.9 v2" stroke="#000" stroke-width="0.7"/>
<path d="M162.4,325.3 v1.6" stroke="#000" stroke-width="0.7"/><path d="M162.4,206.9 v2" stroke="#000" stroke-width="0.7"/>
<path d="M181.6,325.3 v1.6" stroke="#000" stroke-width="0.7"/><path d="M181.6,206.9 v2" stroke="#000" stroke-width="0.7"/>
<path d="M200.8,325.3 v1.6" stroke="#000" stroke-width="0.7"/><path d="M200.8,206.9 v2" stroke="#000" stroke-width="0.7"/>
<text x="47.4" y="336.9" font-size="10.4" font-weight="bold" text-anchor="middle" fill="#000" >0</text>
<text x="85.825" y="336.9" font-size="10.4" font-weight="bold" text-anchor="middle" fill="#000" >100</text>
<text x="124.25000000000001" y="336.9" font-size="10.4" font-weight="bold" text-anchor="middle" fill="#000" >200</text>
<text x="162.67500000000004" y="336.9" font-size="10.4" font-weight="bold" text-anchor="middle" fill="#000" >300</text>
<text x="201.10000000000002" y="336.9" font-size="10.4" font-weight="bold" text-anchor="middle" fill="#000" >400</text>
<text x="124" y="354.7" font-size="13.8" font-weight="bold" text-anchor="middle" fill="#000" >Time (s)</text>
<text x="0" y="0" font-size="14.2" font-weight="bold" text-anchor="middle" transform="translate(12.6,274) rotate(-90)">Wavelength Shift (fm)</text>
<clipPath id="clipe"><rect x="47.1" y="206.9" width="153.70000000000002" height="118.4"/></clipPath>
<g clip-path="url(#clipe)">
<path d="M47.50,304.47 L48.10,304.93 L48.70,305.20 L49.30,303.80 L49.90,302.42 L50.50,302.63 L51.10,302.77 L51.70,302.95 L52.30,300.91 L52.90,299.90 L53.50,300.78 L54.10,300.54 L54.70,300.94 L55.30,300.30 L55.90,298.94 L56.50,298.07 L57.10,299.64 L57.70,297.60 L58.30,296.25 L58.90,295.21 L59.50,295.49 L60.10,295.25 L60.70,294.44 L61.30,294.06 L61.90,293.84 L62.50,293.73 L63.10,293.65 L63.70,292.59 L64.30,290.39 L64.90,291.27 L65.50,289.56 L66.10,289.64 L66.70,288.31 L67.30,288.68 L67.90,287.83 L68.50,287.98 L69.10,290.02 L69.70,287.71 L70.30,287.67 L70.90,285.88 L71.50,286.01 L72.10,286.64 L72.70,286.13 L73.30,286.20 L73.90,285.89 L74.50,284.82 L75.10,285.57 L75.70,284.62 L76.30,286.25 L76.90,284.80 L77.50,285.14 L78.10,284.63 L78.70,285.14 L79.30,284.04 L79.90,284.86 L80.50,284.18 L81.10,284.97 L81.70,284.65 L82.30,284.11 L82.90,283.18 L83.50,284.01 L84.10,283.97 L84.70,284.78 L85.30,283.41 L85.90,283.64 L86.50,283.61 L87.10,283.36 L87.70,283.15 L88.30,283.04 L88.90,282.53 L89.50,282.13 L90.10,282.55 L90.70,283.50 L91.30,284.56 L91.90,284.54 L92.50,284.66 L93.10,284.56 L93.70,284.54 L94.30,284.21 L94.90,284.63 L95.50,285.59 L96.10,284.34 L96.70,283.76 L97.30,285.68 L97.90,285.02 L98.50,285.45 L99.10,285.57 L99.70,284.14 L100.30,286.51 L100.90,286.79 L101.50,285.72 L102.10,285.91 L102.70,285.56 L103.30,284.75 L103.90,285.17 L104.50,285.74 L105.10,286.55 L105.70,286.55 L106.30,286.12 L106.90,287.06 L107.50,285.82 L108.10,286.71 L108.70,287.31 L109.30,286.51 L109.90,285.20 L110.50,285.57 L111.10,286.64 L111.70,287.27 L112.30,288.32 L112.90,286.77 L113.50,287.16 L114.10,287.86 L114.70,287.54 L115.30,285.84 L115.90,287.83 L116.50,289.67 L117.10,289.31 L117.70,287.81 L118.30,287.84 L118.90,288.41 L119.50,290.40 L120.10,289.65 L120.70,289.13 L121.30,290.16 L121.90,289.30 L122.50,290.61 L123.10,289.15 L123.70,288.95 L124.30,289.89 L124.90,290.80 L125.50,290.64 L126.10,290.48 L126.70,288.96 L127.30,289.50 L127.90,289.88 L128.50,290.21 L129.10,291.31 L129.70,291.08 L130.30,292.02 L130.90,291.91 L131.50,291.71 L132.10,292.15 L132.70,292.66 L133.30,293.29 L133.90,292.61 L134.50,292.74 L135.10,292.07 L135.70,294.28 L136.30,294.97 L136.90,294.08 L137.50,293.74 L138.10,293.21 L138.70,294.27 L139.30,294.76 L139.90,296.57 L140.50,295.78 L141.10,294.91 L141.70,293.49 L142.30,296.11 L142.90,296.06 L143.50,294.78 L144.10,295.87 L144.70,294.94 L145.30,298.64 L145.90,298.06 L146.50,297.57 L147.10,296.96 L147.70,295.38 L148.30,296.55 L148.90,295.92 L149.50,297.47 L150.10,295.96 L150.70,296.55 L151.30,298.45 L151.90,299.45 L152.50,297.70 L153.10,297.01 L153.70,298.75 L154.30,299.36 L154.90,298.24 L155.50,298.24 L156.10,298.34 L156.70,298.10 L157.30,298.52 L157.90,300.21 L158.50,300.32 L159.10,301.45 L159.70,300.20 L160.30,299.84 L160.90,299.14 L161.50,299.63 L162.10,298.92 L162.70,298.41 L163.30,300.19 L163.90,301.35 L164.50,301.28 L165.10,301.69 L165.70,301.04 L166.30,300.16 L166.90,300.56 L167.50,300.38 L168.10,299.81 L168.70,299.25 L169.30,299.29 L169.90,300.48 L170.50,301.01 L171.10,300.69 L171.70,301.84 L172.30,301.09 L172.90,301.03 L173.50,301.36 L174.10,299.76 L174.70,298.26 L175.30,299.75 L175.90,298.95 L176.50,300.10 L177.10,299.56 L177.70,299.77 L178.30,299.50 L178.90,297.11 L179.50,298.39 L180.10,297.57 L180.70,297.12 L181.30,297.44 L181.90,298.64 L182.50,299.25 L183.10,299.68 L183.70,297.94 L184.30,298.39 L184.90,297.32 L185.50,298.89 L186.10,300.06 L186.70,299.53 L187.30,300.30 L187.90,300.64 L188.50,301.47 L189.10,300.45 L189.70,300.27 L190.30,300.40 L190.90,302.49 L191.50,302.74 L192.10,302.02 L192.70,302.21 L193.30,302.31 L193.90,302.54 L194.50,302.42 L195.10,302.43 L195.70,301.85 L196.30,302.28 L196.90,304.29 L197.50,304.18 L198.10,303.91 L198.70,303.75 L199.30,304.05 L199.90,304.49 L200.50,303.99" fill="none" stroke="#9b14c8" stroke-width="2.3" stroke-linejoin="round"/>
<path d="M47.50,304.30 L48.10,304.65 L48.70,303.96 L49.30,303.18 L49.90,303.64 L50.50,302.67 L51.10,301.71 L51.70,302.59 L52.30,300.69 L52.90,299.11 L53.50,298.14 L54.10,298.09 L54.70,298.56 L55.30,298.12 L55.90,297.25 L56.50,296.67 L57.10,295.55 L57.70,293.54 L58.30,292.61 L58.90,290.96 L59.50,288.68 L60.10,288.20 L60.70,286.62 L61.30,285.08 L61.90,285.46 L62.50,283.77 L63.10,281.44 L63.70,280.20 L64.30,280.83 L64.90,278.17 L65.50,277.27 L66.10,276.05 L66.70,275.26 L67.30,275.11 L67.90,274.11 L68.50,273.69 L69.10,273.67 L69.70,273.38 L70.30,274.07 L70.90,274.71 L71.50,272.89 L72.10,273.32 L72.70,272.14 L73.30,271.88 L73.90,272.02 L74.50,272.20 L75.10,271.70 L75.70,269.74 L76.30,272.11 L76.90,271.41 L77.50,271.06 L78.10,272.07 L78.70,271.48 L79.30,270.76 L79.90,272.11 L80.50,272.56 L81.10,271.82 L81.70,272.98 L82.30,273.01 L82.90,271.87 L83.50,273.78 L84.10,273.24 L84.70,272.02 L85.30,272.90 L85.90,272.94 L86.50,273.63 L87.10,272.07 L87.70,273.48 L88.30,273.85 L88.90,273.80 L89.50,273.74 L90.10,274.33 L90.70,274.27 L91.30,273.96 L91.90,273.30 L92.50,274.77 L93.10,275.29 L93.70,275.08 L94.30,275.08 L94.90,275.69 L95.50,273.54 L96.10,275.26 L96.70,273.81 L97.30,275.74 L97.90,277.18 L98.50,278.49 L99.10,277.29 L99.70,277.86 L100.30,277.87 L100.90,276.44 L101.50,278.53 L102.10,278.82 L102.70,279.20 L103.30,278.76 L103.90,279.56 L104.50,280.13 L105.10,281.46 L105.70,281.33 L106.30,283.99 L106.90,282.01 L107.50,281.76 L108.10,282.08 L108.70,281.82 L109.30,283.78 L109.90,283.92 L110.50,282.72 L111.10,283.65 L111.70,284.98 L112.30,283.62 L112.90,284.65 L113.50,284.90 L114.10,287.20 L114.70,286.63 L115.30,286.06 L115.90,286.00 L116.50,288.11 L117.10,287.16 L117.70,289.23 L118.30,287.11 L118.90,287.76 L119.50,288.16 L120.10,288.15 L120.70,288.76 L121.30,289.87 L121.90,289.39 L122.50,288.89 L123.10,291.12 L123.70,292.11 L124.30,290.98 L124.90,291.69 L125.50,289.95 L126.10,292.49 L126.70,291.68 L127.30,292.30 L127.90,294.86 L128.50,293.24 L129.10,294.02 L129.70,293.68 L130.30,293.24 L130.90,293.90 L131.50,295.48 L132.10,295.00 L132.70,295.67 L133.30,297.16 L133.90,297.19 L134.50,296.58 L135.10,298.86 L135.70,298.82 L136.30,300.14 L136.90,298.96 L137.50,301.05 L138.10,299.66 L138.70,311.02 L139.30,311.33 L139.90,302.42 L140.50,303.57 L141.10,303.69 L141.70,305.06 L142.30,306.42 L142.90,305.69 L143.50,305.14 L144.10,305.91 L144.70,307.30 L145.30,307.93 L145.90,307.43 L146.50,307.00 L147.10,307.83 L147.70,309.06 L148.30,308.34 L148.90,309.89 L149.50,309.74 L150.10,309.71 L150.70,308.97 L151.30,310.29 L151.90,309.66 L152.50,308.29 L153.10,309.67 L153.70,309.12 L154.30,310.11 L154.90,309.71 L155.50,308.97 L156.10,309.37 L156.70,308.97 L157.30,308.60 L157.90,309.19 L158.50,310.28 L159.10,310.23 L159.70,310.30 L160.30,310.17 L160.90,311.21 L161.50,311.50 L162.10,312.33 L162.70,312.33 L163.30,313.91 L163.90,311.73 L164.50,312.45 L165.10,313.28 L165.70,313.98 L166.30,312.49 L166.90,312.45 L167.50,313.53 L168.10,314.87 L168.70,315.48 L169.30,313.82 L169.90,314.77 L170.50,316.03 L171.10,315.70 L171.70,314.96 L172.30,315.15 L172.90,314.91 L173.50,316.96 L174.10,316.63 L174.70,316.53 L175.30,316.28 L175.90,316.91 L176.50,316.63 L177.10,316.63 L177.70,317.48 L178.30,317.72 L178.90,318.46 L179.50,318.57 L180.10,319.53 L180.70,319.01 L181.30,319.22 L181.90,319.38 L182.50,318.77 L183.10,320.25 L183.70,319.48 L184.30,318.59 L184.90,320.64 L185.50,320.93 L186.10,320.21 L186.70,321.29 L187.30,321.76 L187.90,321.77 L188.50,320.40 L189.10,321.11 L189.70,320.47 L190.30,320.68 L190.90,320.86 L191.50,320.78 L192.10,321.87 L192.70,321.29 L193.30,322.28 L193.90,322.31 L194.50,321.80 L195.10,322.33 L195.70,322.96 L196.30,323.59 L196.90,322.77 L197.50,324.15 L198.10,323.74 L198.70,324.22 L199.30,322.44 L199.90,322.21 L200.50,323.97" fill="none" stroke="#2255f0" stroke-width="2.3" stroke-linejoin="round"/>
<path d="M47.50,305.29 L48.10,301.48 L48.70,298.53 L49.30,298.48 L49.90,302.34 L50.50,303.22 L51.10,302.65 L51.70,302.23 L52.30,300.91 L52.90,299.51 L53.50,298.48 L54.10,298.43 L54.70,297.79 L55.30,298.72 L55.90,298.05 L56.50,294.97 L57.10,295.94 L57.70,294.78 L58.30,295.31 L58.90,295.41 L59.50,293.72 L60.10,289.75 L60.70,291.05 L61.30,288.13 L61.90,290.62 L62.50,288.04 L63.10,287.30 L63.70,289.05 L64.30,284.55 L64.90,284.89 L65.50,282.75 L66.10,281.96 L66.70,280.56 L67.30,281.17 L67.90,279.31 L68.50,278.75 L69.10,278.13 L69.70,274.18 L70.30,276.08 L70.90,273.77 L71.50,270.48 L72.10,269.94 L72.70,270.88 L73.30,270.51 L73.90,267.45 L74.50,266.72 L75.10,265.85 L75.70,265.77 L76.30,263.46 L76.90,263.36 L77.50,260.15 L78.10,258.92 L78.70,260.39 L79.30,260.79 L79.90,259.83 L80.50,260.25 L81.10,259.76 L81.70,260.21 L82.30,260.73 L82.90,259.97 L83.50,260.00 L84.10,258.37 L84.70,257.56 L85.30,255.14 L85.90,258.13 L86.50,258.71 L87.10,259.69 L87.70,257.11 L88.30,258.26 L88.90,258.68 L89.50,257.40 L90.10,260.61 L90.70,262.14 L91.30,259.61 L91.90,261.19 L92.50,263.46 L93.10,260.59 L93.70,262.68 L94.30,264.23 L94.90,265.22 L95.50,261.20 L96.10,260.18 L96.70,261.31 L97.30,262.75 L97.90,259.89 L98.50,259.51 L99.10,258.76 L99.70,261.19 L100.30,259.64 L100.90,260.44 L101.50,260.60 L102.10,261.14 L102.70,260.19 L103.30,259.64 L103.90,260.34 L104.50,259.52 L105.10,257.12 L105.70,258.41 L106.30,261.39 L106.90,262.08 L107.50,262.42 L108.10,264.04 L108.70,269.19 L109.30,267.22 L109.90,268.07 L110.50,269.05 L111.10,269.18 L111.70,271.84 L112.30,272.98 L112.90,273.50 L113.50,271.64 L114.10,274.68 L114.70,275.27 L115.30,274.68 L115.90,271.48 L116.50,274.18 L117.10,273.83 L117.70,275.28 L118.30,275.66 L118.90,275.68 L119.50,278.33 L120.10,278.07 L120.70,278.43 L121.30,275.09 L121.90,274.42 L122.50,275.55 L123.10,273.93 L123.70,271.45 L124.30,269.85 L124.90,269.11 L125.50,270.15 L126.10,271.95 L126.70,272.21 L127.30,273.49 L127.90,274.27 L128.50,273.84 L129.10,275.49 L129.70,275.56 L130.30,281.44 L130.90,286.36 L131.50,284.37 L132.10,277.25 L132.70,273.30 L133.30,275.13 L133.90,275.25 L134.50,276.95 L135.10,278.48 L135.70,286.17 L136.30,290.17 L136.90,289.68 L137.50,290.56 L138.10,289.85 L138.70,290.20 L139.30,292.05 L139.90,292.23 L140.50,291.71 L141.10,290.56 L141.70,292.11 L142.30,294.22 L142.90,289.54 L143.50,292.25 L144.10,290.33 L144.70,288.05 L145.30,288.45 L145.90,285.79 L146.50,288.50 L147.10,286.34 L147.70,292.32 L148.30,297.24 L148.90,296.95 L149.50,297.53 L150.10,296.92 L150.70,296.29 L151.30,297.65 L151.90,296.87 L152.50,299.94 L153.10,298.23 L153.70,295.51 L154.30,290.50 L154.90,288.55 L155.50,287.71 L156.10,289.87 L156.70,289.37 L157.30,291.31 L157.90,290.16 L158.50,293.19 L159.10,298.64 L159.70,301.30 L160.30,304.42 L160.90,306.81 L161.50,307.15 L162.10,305.24 L162.70,305.25 L163.30,309.39 L163.90,307.60 L164.50,307.87 L165.10,307.89 L165.70,307.85 L166.30,307.99 L166.90,308.01 L167.50,308.50 L168.10,307.16 L168.70,311.86 L169.30,311.43 L169.90,307.26 L170.50,306.71 L171.10,305.39 L171.70,302.32 L172.30,302.16 L172.90,304.25 L173.50,303.25 L174.10,302.38 L174.70,302.72 L175.30,301.33 L175.90,300.60 L176.50,302.68 L177.10,300.94 L177.70,301.89 L178.30,306.90 L178.90,310.58 L179.50,313.01 L180.10,316.45 L180.70,314.99 L181.30,316.92 L181.90,315.87 L182.50,313.75 L183.10,316.23 L183.70,314.79 L184.30,313.49 L184.90,314.15 L185.50,311.66 L186.10,311.68 L186.70,306.04 L187.30,304.13 L187.90,303.76 L188.50,305.88 L189.10,306.34 L189.70,307.63 L190.30,311.79 L190.90,314.87 L191.50,315.20 L192.10,315.58 L192.70,314.49 L193.30,314.72 L193.90,316.66 L194.50,315.40 L195.10,313.87 L195.70,315.65 L196.30,317.17 L196.90,319.38 L197.50,317.33 L198.10,316.39 L198.70,317.42 L199.30,317.41 L199.90,317.92 L200.50,317.10" fill="none" stroke="#22d8a0" stroke-width="2.3" stroke-linejoin="round"/>
<path d="M47.50,306.33 L48.10,305.70 L48.70,303.22 L49.30,301.54 L49.90,301.93 L50.50,302.20 L51.10,301.09 L51.70,299.25 L52.30,298.69 L52.90,299.10 L53.50,296.24 L54.10,296.41 L54.70,295.23 L55.30,294.01 L55.90,293.03 L56.50,290.91 L57.10,290.21 L57.70,290.94 L58.30,288.97 L58.90,287.83 L59.50,286.22 L60.10,285.94 L60.70,286.29 L61.30,286.28 L61.90,285.33 L62.50,284.53 L63.10,283.76 L63.70,282.84 L64.30,282.58 L64.90,281.05 L65.50,280.80 L66.10,279.18 L66.70,276.87 L67.30,275.75 L67.90,275.57 L68.50,274.65 L69.10,273.13 L69.70,272.35 L70.30,272.17 L70.90,271.61 L71.50,271.11 L72.10,269.00 L72.70,268.64 L73.30,268.05 L73.90,266.18 L74.50,265.59 L75.10,262.63 L75.70,261.01 L76.30,259.57 L76.90,257.60 L77.50,256.19 L78.10,254.93 L78.70,253.50 L79.30,251.81 L79.90,250.44 L80.50,249.40 L81.10,247.08 L81.70,246.76 L82.30,244.80 L82.90,243.93 L83.50,242.13 L84.10,241.62 L84.70,240.43 L85.30,239.43 L85.90,238.03 L86.50,237.52 L87.10,237.74 L87.70,234.52 L88.30,234.56 L88.90,233.62 L89.50,232.15 L90.10,230.31 L90.70,231.15 L91.30,229.63 L91.90,229.05 L92.50,227.86 L93.10,227.15 L93.70,228.21 L94.30,228.17 L94.90,227.28 L95.50,226.97 L96.10,227.39 L96.70,226.36 L97.30,225.91 L97.90,226.27 L98.50,227.05 L99.10,227.07 L99.70,226.47 L100.30,227.28 L100.90,226.68 L101.50,226.45 L102.10,228.71 L102.70,227.48 L103.30,228.14 L103.90,228.52 L104.50,228.51 L105.10,228.80 L105.70,229.45 L106.30,229.75 L106.90,229.20 L107.50,229.68 L108.10,231.07 L108.70,231.21 L109.30,230.59 L109.90,230.99 L110.50,230.53 L111.10,230.38 L111.70,231.11 L112.30,233.14 L112.90,232.31 L113.50,231.28 L114.10,232.57 L114.70,232.76 L115.30,234.09 L115.90,235.08 L116.50,234.43 L117.10,234.80 L117.70,234.37 L118.30,236.03 L118.90,235.30 L119.50,235.87 L120.10,238.06 L120.70,236.74 L121.30,237.58 L121.90,238.08 L122.50,239.03 L123.10,239.73 L123.70,241.12 L124.30,241.21 L124.90,241.73 L125.50,240.94 L126.10,242.34 L126.70,241.88 L127.30,244.05 L127.90,244.18 L128.50,245.39 L129.10,245.08 L129.70,245.95 L130.30,246.73 L130.90,248.00 L131.50,248.53 L132.10,248.98 L132.70,249.92 L133.30,250.64 L133.90,251.30 L134.50,251.93 L135.10,252.58 L135.70,255.91 L136.30,255.60 L136.90,255.46 L137.50,257.23 L138.10,257.53 L138.70,257.59 L139.30,258.84 L139.90,260.04 L140.50,258.67 L141.10,260.23 L141.70,260.36 L142.30,261.12 L142.90,260.38 L143.50,262.08 L144.10,262.50 L144.70,260.12 L145.30,262.56 L145.90,263.64 L146.50,262.22 L147.10,263.35 L147.70,263.60 L148.30,264.26 L148.90,263.94 L149.50,265.25 L150.10,265.95 L150.70,265.79 L151.30,266.02 L151.90,265.10 L152.50,266.77 L153.10,266.17 L153.70,267.20 L154.30,267.15 L154.90,269.92 L155.50,269.06 L156.10,270.20 L156.70,269.62 L157.30,269.69 L157.90,270.56 L158.50,270.55 L159.10,272.60 L159.70,271.64 L160.30,272.99 L160.90,271.59 L161.50,271.67 L162.10,273.15 L162.70,272.38 L163.30,274.93 L163.90,274.92 L164.50,274.87 L165.10,276.41 L165.70,275.46 L166.30,275.29 L166.90,274.16 L167.50,274.60 L168.10,276.25 L168.70,275.71 L169.30,277.96 L169.90,279.09 L170.50,279.33 L171.10,278.14 L171.70,278.65 L172.30,278.70 L172.90,280.57 L173.50,281.67 L174.10,281.35 L174.70,281.63 L175.30,281.98 L175.90,282.62 L176.50,281.75 L177.10,281.60 L177.70,283.02 L178.30,283.39 L178.90,283.64 L179.50,283.55 L180.10,284.22 L180.70,284.35 L181.30,283.74 L181.90,285.45 L182.50,285.65 L183.10,284.88 L183.70,284.91 L184.30,284.61 L184.90,284.17 L185.50,284.45 L186.10,284.41 L186.70,285.13 L187.30,286.24 L187.90,286.45 L188.50,285.64 L189.10,286.49 L189.70,286.57 L190.30,286.41 L190.90,288.18 L191.50,287.25 L192.10,288.60 L192.70,287.21 L193.30,288.44 L193.90,288.23 L194.50,289.57 L195.10,289.72 L195.70,289.03 L196.30,290.05 L196.90,291.00 L197.50,291.49 L198.10,291.90 L198.70,290.81 L199.30,292.53 L199.90,291.15 L200.50,291.23" fill="none" stroke="#a6e23c" stroke-width="2.3" stroke-linejoin="round"/>
<path d="M47.50,305.50 L48.10,305.18 L48.70,304.91 L49.30,304.32 L49.90,304.49 L50.50,304.26 L51.10,304.77 L51.70,303.34 L52.30,305.17 L52.90,301.67 L53.50,302.66 L54.10,303.37 L54.70,302.67 L55.30,301.68 L55.90,301.40 L56.50,301.42 L57.10,301.38 L57.70,299.03 L58.30,299.11 L58.90,298.12 L59.50,298.57 L60.10,297.21 L60.70,296.83 L61.30,296.94 L61.90,295.58 L62.50,295.13 L63.10,293.86 L63.70,292.94 L64.30,290.79 L64.90,290.16 L65.50,289.47 L66.10,288.41 L66.70,289.33 L67.30,285.79 L67.90,284.04 L68.50,284.49 L69.10,284.16 L69.70,283.01 L70.30,282.61 L70.90,282.40 L71.50,279.81 L72.10,277.69 L72.70,277.13 L73.30,277.15 L73.90,275.89 L74.50,274.33 L75.10,273.48 L75.70,272.46 L76.30,269.75 L76.90,268.15 L77.50,264.90 L78.10,262.45 L78.70,259.64 L79.30,257.33 L79.90,256.08 L80.50,253.92 L81.10,252.42 L81.70,251.38 L82.30,250.15 L82.90,248.75 L83.50,248.95 L84.10,247.76 L84.70,246.60 L85.30,245.35 L85.90,244.78 L86.50,241.86 L87.10,240.22 L87.70,239.01 L88.30,236.85 L88.90,235.79 L89.50,235.16 L90.10,231.76 L90.70,230.91 L91.30,229.04 L91.90,229.30 L92.50,227.28 L93.10,226.25 L93.70,224.95 L94.30,223.40 L94.90,223.16 L95.50,222.76 L96.10,221.88 L96.70,222.31 L97.30,221.20 L97.90,219.96 L98.50,220.37 L99.10,221.26 L99.70,220.78 L100.30,221.64 L100.90,221.89 L101.50,222.82 L102.10,223.37 L102.70,223.30 L103.30,224.90 L103.90,224.39 L104.50,225.42 L105.10,224.84 L105.70,225.04 L106.30,225.63 L106.90,226.27 L107.50,227.62 L108.10,226.73 L108.70,228.95 L109.30,227.95 L109.90,229.81 L110.50,229.79 L111.10,229.25 L111.70,229.88 L112.30,229.09 L112.90,229.11 L113.50,229.09 L114.10,230.96 L114.70,228.78 L115.30,230.06 L115.90,228.85 L116.50,228.11 L117.10,227.97 L117.70,229.06 L118.30,228.31 L118.90,227.61 L119.50,228.30 L120.10,228.18 L120.70,228.50 L121.30,226.93 L121.90,228.11 L122.50,228.13 L123.10,226.65 L123.70,226.31 L124.30,226.61 L124.90,226.05 L125.50,226.45 L126.10,226.27 L126.70,225.78 L127.30,225.49 L127.90,225.21 L128.50,227.14 L129.10,227.07 L129.70,229.12 L130.30,230.59 L130.90,230.32 L131.50,231.17 L132.10,232.11 L132.70,232.52 L133.30,231.72 L133.90,231.98 L134.50,232.82 L135.10,233.90 L135.70,234.00 L136.30,235.18 L136.90,236.71 L137.50,236.41 L138.10,236.80 L138.70,235.35 L139.30,234.97 L139.90,235.04 L140.50,234.82 L141.10,233.45 L141.70,231.80 L142.30,232.67 L142.90,229.62 L143.50,229.28 L144.10,228.42 L144.70,228.16 L145.30,227.94 L145.90,226.64 L146.50,228.88 L147.10,229.03 L147.70,228.53 L148.30,227.74 L148.90,227.06 L149.50,229.03 L150.10,229.69 L150.70,229.89 L151.30,230.93 L151.90,230.85 L152.50,229.80 L153.10,229.44 L153.70,230.67 L154.30,231.68 L154.90,232.14 L155.50,231.77 L156.10,231.13 L156.70,230.31 L157.30,230.80 L157.90,230.87 L158.50,229.78 L159.10,228.98 L159.70,228.92 L160.30,228.28 L160.90,228.74 L161.50,227.69 L162.10,228.24 L162.70,227.38 L163.30,229.10 L163.90,231.87 L164.50,231.09 L165.10,232.57 L165.70,235.45 L166.30,236.13 L166.90,236.68 L167.50,237.93 L168.10,238.59 L168.70,238.06 L169.30,235.85 L169.90,235.72 L170.50,235.00 L171.10,235.21 L171.70,233.92 L172.30,231.48 L172.90,232.01 L173.50,231.23 L174.10,232.78 L174.70,231.78 L175.30,232.88 L175.90,232.78 L176.50,232.42 L177.10,233.49 L177.70,233.11 L178.30,232.20 L178.90,234.52 L179.50,234.84 L180.10,235.91 L180.70,237.28 L181.30,238.63 L181.90,239.21 L182.50,239.14 L183.10,239.93 L183.70,240.46 L184.30,241.82 L184.90,242.53 L185.50,244.34 L186.10,244.18 L186.70,245.41 L187.30,246.59 L187.90,246.23 L188.50,245.86 L189.10,246.92 L189.70,246.01 L190.30,246.51 L190.90,247.84 L191.50,247.93 L192.10,247.64 L192.70,247.68 L193.30,247.75 L193.90,249.37 L194.50,250.42 L195.10,250.59 L195.70,249.85 L196.30,250.05 L196.90,249.49 L197.50,249.35 L198.10,250.75 L198.70,251.39 L199.30,250.43 L199.90,250.38 L200.50,251.68" fill="none" stroke="#f0801e" stroke-width="2.3" stroke-linejoin="round"/>
<path d="M47.50,304.91 L48.10,305.43 L48.70,304.08 L49.30,304.38 L49.90,303.00 L50.50,303.65 L51.10,302.98 L51.70,303.48 L52.30,302.93 L52.90,301.93 L53.50,301.09 L54.10,301.03 L54.70,300.36 L55.30,299.30 L55.90,299.65 L56.50,297.41 L57.10,298.02 L57.70,299.34 L58.30,298.26 L58.90,295.82 L59.50,296.04 L60.10,294.80 L60.70,293.21 L61.30,292.02 L61.90,291.45 L62.50,291.06 L63.10,289.60 L63.70,289.09 L64.30,286.23 L64.90,285.21 L65.50,282.19 L66.10,279.89 L66.70,279.29 L67.30,278.23 L67.90,277.83 L68.50,274.73 L69.10,272.72 L69.70,269.67 L70.30,268.11 L70.90,266.53 L71.50,264.33 L72.10,264.17 L72.70,263.69 L73.30,262.34 L73.90,260.83 L74.50,259.61 L75.10,259.10 L75.70,254.60 L76.30,250.15 L76.90,247.33 L77.50,245.59 L78.10,243.02 L78.70,241.45 L79.30,240.06 L79.90,239.52 L80.50,238.04 L81.10,236.62 L81.70,235.79 L82.30,234.10 L82.90,234.74 L83.50,233.81 L84.10,233.18 L84.70,233.36 L85.30,234.81 L85.90,235.90 L86.50,235.02 L87.10,234.67 L87.70,234.49 L88.30,235.75 L88.90,234.29 L89.50,231.25 L90.10,228.02 L90.70,228.11 L91.30,227.32 L91.90,227.22 L92.50,226.65 L93.10,225.94 L93.70,224.78 L94.30,225.84 L94.90,225.88 L95.50,226.02 L96.10,226.07 L96.70,226.59 L97.30,226.87 L97.90,225.46 L98.50,226.35 L99.10,227.22 L99.70,227.49 L100.30,227.27 L100.90,227.54 L101.50,226.51 L102.10,227.57 L102.70,227.54 L103.30,227.83 L103.90,228.38 L104.50,228.27 L105.10,227.47 L105.70,226.73 L106.30,227.59 L106.90,228.23 L107.50,228.65 L108.10,229.37 L108.70,229.24 L109.30,229.23 L109.90,227.92 L110.50,229.23 L111.10,229.24 L111.70,230.55 L112.30,230.10 L112.90,228.98 L113.50,229.25 L114.10,229.71 L114.70,228.84 L115.30,228.14 L115.90,229.34 L116.50,229.08 L117.10,229.26 L117.70,229.53 L118.30,229.39 L118.90,230.09 L119.50,230.00 L120.10,229.93 L120.70,229.99 L121.30,229.20 L121.90,227.95 L122.50,228.19 L123.10,227.16 L123.70,229.99 L124.30,232.48 L124.90,236.21 L125.50,235.71 L126.10,233.19 L126.70,229.74 L127.30,226.58 L127.90,227.51 L128.50,229.69 L129.10,230.79 L129.70,230.50 L130.30,232.75 L130.90,233.81 L131.50,235.19 L132.10,235.20 L132.70,233.38 L133.30,233.41 L133.90,232.81 L134.50,232.88 L135.10,231.64 L135.70,230.18 L136.30,230.43 L136.90,231.52 L137.50,231.42 L138.10,231.74 L138.70,232.46 L139.30,232.82 L139.90,233.09 L140.50,233.51 L141.10,235.23 L141.70,234.84 L142.30,235.51 L142.90,236.71 L143.50,237.39 L144.10,236.14 L144.70,236.71 L145.30,236.92 L145.90,238.09 L146.50,237.39 L147.10,238.11 L147.70,239.52 L148.30,240.63 L148.90,240.32 L149.50,241.52 L150.10,242.94 L150.70,242.24 L151.30,243.87 L151.90,243.85 L152.50,242.76 L153.10,244.27 L153.70,244.81 L154.30,246.04 L154.90,245.13 L155.50,246.71 L156.10,246.10 L156.70,246.48 L157.30,246.27 L157.90,246.85 L158.50,247.68 L159.10,247.26 L159.70,246.95 L160.30,247.82 L160.90,247.63 L161.50,248.10 L162.10,248.89 L162.70,248.73 L163.30,248.99 L163.90,249.12 L164.50,249.26 L165.10,249.97 L165.70,250.58 L166.30,250.33 L166.90,249.07 L167.50,249.02 L168.10,250.70 L168.70,251.82 L169.30,252.20 L169.90,251.22 L170.50,251.50 L171.10,251.19 L171.70,251.81 L172.30,251.79 L172.90,251.26 L173.50,252.29 L174.10,252.32 L174.70,253.82 L175.30,253.74 L175.90,252.03 L176.50,253.23 L177.10,252.51 L177.70,252.59 L178.30,253.00 L178.90,252.48 L179.50,255.33 L180.10,254.81 L180.70,253.62 L181.30,254.72 L181.90,252.88 L182.50,254.77 L183.10,254.58 L183.70,254.63 L184.30,255.12 L184.90,254.82 L185.50,254.99 L186.10,254.05 L186.70,254.72 L187.30,254.45 L187.90,254.94 L188.50,254.62 L189.10,254.96 L189.70,254.47 L190.30,253.83 L190.90,254.00 L191.50,255.21 L192.10,254.79 L192.70,254.93 L193.30,254.69 L193.90,255.47 L194.50,254.60 L195.10,253.13 L195.70,254.01 L196.30,254.34 L196.90,255.67 L197.50,254.76 L198.10,254.70 L198.70,255.42 L199.30,255.79 L199.90,255.17 L200.50,256.09" fill="none" stroke="#ee1a8c" stroke-width="2.3" stroke-linejoin="round"/>
<path d="M47.50,302.83 L48.10,304.75 L48.70,307.17 L49.30,306.79 L49.90,307.53 L50.50,305.64 L51.10,307.27 L51.70,307.87 L52.30,309.98 L52.90,309.14 L53.50,308.42 L54.10,306.93 L54.70,306.12 L55.30,306.91 L55.90,308.92 L56.50,304.52 L57.10,301.64 L57.70,307.75 L58.30,308.81 L58.90,307.50 L59.50,306.64 L60.10,305.86 L60.70,306.12 L61.30,305.37 L61.90,308.26 L62.50,308.34 L63.10,306.18 L63.70,308.09 L64.30,309.02 L64.90,309.58 L65.50,313.62 L66.10,313.58 L66.70,307.23 L67.30,310.88 L67.90,312.91 L68.50,313.96 L69.10,313.54 L69.70,309.26 L70.30,312.37 L70.90,312.14 L71.50,314.24 L72.10,313.42 L72.70,310.25 L73.30,314.44 L73.90,311.14 L74.50,313.70 L75.10,313.49 L75.70,311.99 L76.30,309.01 L76.90,310.28 L77.50,310.64 L78.10,311.91 L78.70,312.31 L79.30,315.25 L79.90,314.38 L80.50,315.26 L81.10,312.02 L81.70,312.15 L82.30,314.28 L82.90,315.02 L83.50,314.82 L84.10,313.07 L84.70,311.65 L85.30,315.52 L85.90,312.96 L86.50,312.69 L87.10,315.55 L87.70,314.19 L88.30,312.73 L88.90,314.55 L89.50,313.52 L90.10,315.52 L90.70,313.98 L91.30,312.48 L91.90,317.02 L92.50,316.56 L93.10,314.78 L93.70,313.87 L94.30,311.77 L94.90,312.31 L95.50,311.44 L96.10,314.43 L96.70,315.87 L97.30,314.00 L97.90,313.20 L98.50,314.31 L99.10,314.06 L99.70,314.84 L100.30,315.06 L100.90,315.06 L101.50,315.46 L102.10,313.18 L102.70,315.13 L103.30,311.66 L103.90,313.88 L104.50,314.01 L105.10,315.09 L105.70,314.63 L106.30,315.19 L106.90,312.35 L107.50,313.47 L108.10,313.44 L108.70,315.25 L109.30,315.59 L109.90,314.77 L110.50,314.48 L111.10,314.16 L111.70,314.99 L112.30,316.15 L112.90,316.96 L113.50,315.98 L114.10,314.37 L114.70,314.28 L115.30,316.64 L115.90,314.75 L116.50,315.29 L117.10,312.57 L117.70,316.60 L118.30,316.61 L118.90,315.63 L119.50,316.04 L120.10,317.45 L120.70,316.86 L121.30,317.23 L121.90,317.08 L122.50,315.30 L123.10,314.00 L123.70,317.76 L124.30,316.64 L124.90,318.91 L125.50,319.25 L126.10,316.63 L126.70,315.30 L127.30,314.78 L127.90,317.64 L128.50,315.80 L129.10,314.56 L129.70,315.62 L130.30,313.20 L130.90,313.03 L131.50,312.99 L132.10,313.77 L132.70,312.16 L133.30,312.63 L133.90,313.95 L134.50,312.64 L135.10,312.51 L135.70,315.46 L136.30,314.84 L136.90,316.52 L137.50,319.14 L138.10,319.54 L138.70,321.85 L139.30,319.58 L139.90,316.68 L140.50,318.54 L141.10,318.80 L141.70,319.62 L142.30,316.47 L142.90,317.40 L143.50,319.43 L144.10,318.64 L144.70,319.67 L145.30,317.16 L145.90,318.07 L146.50,317.54 L147.10,319.52 L147.70,316.18 L148.30,318.24 L148.90,317.24 L149.50,316.55 L150.10,315.11 L150.70,313.88 L151.30,312.74 L151.90,314.90 L152.50,313.52 L153.10,316.07 L153.70,315.64 L154.30,315.39 L154.90,316.70 L155.50,316.10 L156.10,318.04 L156.70,315.40 L157.30,317.08 L157.90,320.24 L158.50,319.29 L159.10,321.61 L159.70,320.03 L160.30,318.17 L160.90,320.93 L161.50,319.90 L162.10,319.08 L162.70,319.02 L163.30,317.98 L163.90,318.27 L164.50,320.08 L165.10,318.43 L165.70,318.71 L166.30,317.89 L166.90,318.85 L167.50,319.86 L168.10,320.16 L168.70,318.97 L169.30,318.01 L169.90,319.26 L170.50,320.52 L171.10,320.53 L171.70,323.62 L172.30,320.72 L172.90,318.86 L173.50,318.68 L174.10,320.52 L174.70,318.16 L175.30,318.55 L175.90,316.48 L176.50,317.85 L177.10,319.61 L177.70,320.57 L178.30,320.21 L178.90,320.67 L179.50,318.19 L180.10,320.81 L180.70,321.83 L181.30,317.02 L181.90,316.32 L182.50,318.82 L183.10,319.53 L183.70,320.57 L184.30,319.13 L184.90,316.90 L185.50,316.63 L186.10,319.72 L186.70,318.44 L187.30,315.45 L187.90,316.81 L188.50,318.47 L189.10,317.88 L189.70,318.60 L190.30,318.57 L190.90,317.86 L191.50,316.16 L192.10,317.27 L192.70,318.65 L193.30,317.14 L193.90,319.20 L194.50,321.17 L195.10,320.07 L195.70,319.19 L196.30,318.49 L196.90,316.96 L197.50,320.09 L198.10,318.24 L198.70,317.23 L199.30,320.65 L199.90,320.57 L200.50,318.26" fill="none" stroke="#000000" stroke-width="2.3" stroke-linejoin="round"/>
</g>
<path d="M204,212.3 H226.5" stroke="#ee1a8c" stroke-width="3.3" stroke-linecap="round"/>
<text x="230.2" y="215.8" font-size="10.75" font-weight="bold" text-anchor="start" fill="#000" >100 nM</text>
<path d="M204,224.6 H226.5" stroke="#f0801e" stroke-width="3.3" stroke-linecap="round"/>
<text x="230.2" y="228.12" font-size="10.75" font-weight="bold" text-anchor="start" fill="#000" >10 nM</text>
<path d="M204,236.9 H226.5" stroke="#a6e23c" stroke-width="3.3" stroke-linecap="round"/>
<text x="230.2" y="240.44" font-size="10.75" font-weight="bold" text-anchor="start" fill="#000" >5 nM</text>
<path d="M204,249.3 H226.5" stroke="#22d8a0" stroke-width="3.3" stroke-linecap="round"/>
<text x="230.2" y="252.76000000000002" font-size="10.75" font-weight="bold" text-anchor="start" fill="#000" >1 nM</text>
<path d="M204,261.6 H226.5" stroke="#2255f0" stroke-width="3.3" stroke-linecap="round"/>
<text x="230.2" y="265.08000000000004" font-size="10.75" font-weight="bold" text-anchor="start" fill="#000" >100 pM</text>
<path d="M204,273.9 H226.5" stroke="#9b14c8" stroke-width="3.3" stroke-linecap="round"/>
<text x="230.2" y="277.40000000000003" font-size="10.75" font-weight="bold" text-anchor="start" fill="#000" >10 pM</text>
<path d="M204,286.2 H226.5" stroke="#000" stroke-width="3.3" stroke-linecap="round"/>
<text x="230.2" y="289.72" font-size="10.75" font-weight="bold" text-anchor="start" fill="#000" >Buffer</text>
<text x="281" y="198.5" font-size="21.5" font-weight="normal" text-anchor="start" fill="#000" >f</text>
<rect x="309.4" y="206.4" width="148.90000000000003" height="114.79999999999998" fill="none" stroke="#111" stroke-width="1"/>
<path d="M309.4,206.4 H458.3" stroke="#666" stroke-width="1.3"/>
<text x="305.7" y="324.7" font-size="10.8" font-weight="bold" text-anchor="end" fill="#000" >0.0</text>
<path d="M309.4,320.8 h-2" stroke="#000" stroke-width="0.8"/><path d="M458.3,320.8 h-2" stroke="#000" stroke-width="0.7"/>
<path d="M309.4,309.4 h-1.2" stroke="#000" stroke-width="0.6"/>
<text x="305.7" y="301.91999999999996" font-size="10.8" font-weight="bold" text-anchor="end" fill="#000" >0.2</text>
<path d="M309.4,298.0 h-2" stroke="#000" stroke-width="0.8"/><path d="M458.3,298.0 h-2" stroke="#000" stroke-width="0.7"/>
<path d="M309.4,286.6 h-1.2" stroke="#000" stroke-width="0.6"/>
<text x="305.7" y="279.14" font-size="10.8" font-weight="bold" text-anchor="end" fill="#000" >0.4</text>
<path d="M309.4,275.2 h-2" stroke="#000" stroke-width="0.8"/><path d="M458.3,275.2 h-2" stroke="#000" stroke-width="0.7"/>
<path d="M309.4,263.9 h-1.2" stroke="#000" stroke-width="0.6"/>
<text x="305.7" y="256.35999999999996" font-size="10.8" font-weight="bold" text-anchor="end" fill="#000" >0.6</text>
<path d="M309.4,252.5 h-2" stroke="#000" stroke-width="0.8"/><path d="M458.3,252.5 h-2" stroke="#000" stroke-width="0.7"/>
<path d="M309.4,241.1 h-1.2" stroke="#000" stroke-width="0.6"/>
<text x="305.7" y="233.58" font-size="10.8" font-weight="bold" text-anchor="end" fill="#000" >0.8</text>
<path d="M309.4,229.7 h-2" stroke="#000" stroke-width="0.8"/><path d="M458.3,229.7 h-2" stroke="#000" stroke-width="0.7"/>
<path d="M309.4,218.3 h-1.2" stroke="#000" stroke-width="0.6"/>
<text x="305.7" y="210.8" font-size="10.8" font-weight="bold" text-anchor="end" fill="#000" >1.0</text>
<path d="M309.4,206.9 h-2" stroke="#000" stroke-width="0.8"/><path d="M458.3,206.9 h-2" stroke="#000" stroke-width="0.7"/>
<path d="M309.4,321.2 v2.4" stroke="#000" stroke-width="0.8"/><path d="M309.4,206.4 v2.5" stroke="#000" stroke-width="0.7"/>
<path d="M316.9,321.2 v1.3" stroke="#000" stroke-width="0.6"/><path d="M316.9,206.4 v1.3" stroke="#000" stroke-width="0.6"/>
<path d="M321.2,321.2 v1.3" stroke="#000" stroke-width="0.6"/><path d="M321.2,206.4 v1.3" stroke="#000" stroke-width="0.6"/>
<path d="M324.3,321.2 v1.3" stroke="#000" stroke-width="0.6"/><path d="M324.3,206.4 v1.3" stroke="#000" stroke-width="0.6"/>
<path d="M326.7,321.2 v1.3" stroke="#000" stroke-width="0.6"/><path d="M326.7,206.4 v1.3" stroke="#000" stroke-width="0.6"/>
<path d="M328.7,321.2 v1.3" stroke="#000" stroke-width="0.6"/><path d="M328.7,206.4 v1.3" stroke="#000" stroke-width="0.6"/>
<path d="M330.4,321.2 v1.3" stroke="#000" stroke-width="0.6"/><path d="M330.4,206.4 v1.3" stroke="#000" stroke-width="0.6"/>
<path d="M331.8,321.2 v1.3" stroke="#000" stroke-width="0.6"/><path d="M331.8,206.4 v1.3" stroke="#000" stroke-width="0.6"/>
<path d="M333.1,321.2 v1.3" stroke="#000" stroke-width="0.6"/><path d="M333.1,206.4 v1.3" stroke="#000" stroke-width="0.6"/>
<path d="M334.2,321.2 v2.4" stroke="#000" stroke-width="0.8"/><path d="M334.2,206.4 v2.5" stroke="#000" stroke-width="0.7"/>
<path d="M341.7,321.2 v1.3" stroke="#000" stroke-width="0.6"/><path d="M341.7,206.4 v1.3" stroke="#000" stroke-width="0.6"/>
<path d="M346.1,321.2 v1.3" stroke="#000" stroke-width="0.6"/><path d="M346.1,206.4 v1.3" stroke="#000" stroke-width="0.6"/>
<path d="M349.2,321.2 v1.3" stroke="#000" stroke-width="0.6"/><path d="M349.2,206.4 v1.3" stroke="#000" stroke-width="0.6"/>
<path d="M351.6,321.2 v1.3" stroke="#000" stroke-width="0.6"/><path d="M351.6,206.4 v1.3" stroke="#000" stroke-width="0.6"/>
<path d="M353.5,321.2 v1.3" stroke="#000" stroke-width="0.6"/><path d="M353.5,206.4 v1.3" stroke="#000" stroke-width="0.6"/>
<path d="M355.2,321.2 v1.3" stroke="#000" stroke-width="0.6"/><path d="M355.2,206.4 v1.3" stroke="#000" stroke-width="0.6"/>
<path d="M356.6,321.2 v1.3" stroke="#000" stroke-width="0.6"/><path d="M356.6,206.4 v1.3" stroke="#000" stroke-width="0.6"/>
<path d="M357.9,321.2 v1.3" stroke="#000" stroke-width="0.6"/><path d="M357.9,206.4 v1.3" stroke="#000" stroke-width="0.6"/>
<path d="M359.0,321.2 v2.4" stroke="#000" stroke-width="0.8"/><path d="M359.0,206.4 v2.5" stroke="#000" stroke-width="0.7"/>
<path d="M366.5,321.2 v1.3" stroke="#000" stroke-width="0.6"/><path d="M366.5,206.4 v1.3" stroke="#000" stroke-width="0.6"/>
<path d="M370.9,321.2 v1.3" stroke="#000" stroke-width="0.6"/><path d="M370.9,206.4 v1.3" stroke="#000" stroke-width="0.6"/>
<path d="M374.0,321.2 v1.3" stroke="#000" stroke-width="0.6"/><path d="M374.0,206.4 v1.3" stroke="#000" stroke-width="0.6"/>
<path d="M376.4,321.2 v1.3" stroke="#000" stroke-width="0.6"/><path d="M376.4,206.4 v1.3" stroke="#000" stroke-width="0.6"/>
<path d="M378.3,321.2 v1.3" stroke="#000" stroke-width="0.6"/><path d="M378.3,206.4 v1.3" stroke="#000" stroke-width="0.6"/>
<path d="M380.0,321.2 v1.3" stroke="#000" stroke-width="0.6"/><path d="M380.0,206.4 v1.3" stroke="#000" stroke-width="0.6"/>
<path d="M381.4,321.2 v1.3" stroke="#000" stroke-width="0.6"/><path d="M381.4,206.4 v1.3" stroke="#000" stroke-width="0.6"/>
<path d="M382.7,321.2 v1.3" stroke="#000" stroke-width="0.6"/><path d="M382.7,206.4 v1.3" stroke="#000" stroke-width="0.6"/>
<path d="M383.9,321.2 v2.4" stroke="#000" stroke-width="0.8"/><path d="M383.9,206.4 v2.5" stroke="#000" stroke-width="0.7"/>
<path d="M391.3,321.2 v1.3" stroke="#000" stroke-width="0.6"/><path d="M391.3,206.4 v1.3" stroke="#000" stroke-width="0.6"/>
<path d="M395.7,321.2 v1.3" stroke="#000" stroke-width="0.6"/><path d="M395.7,206.4 v1.3" stroke="#000" stroke-width="0.6"/>
<path d="M398.8,321.2 v1.3" stroke="#000" stroke-width="0.6"/><path d="M398.8,206.4 v1.3" stroke="#000" stroke-width="0.6"/>
<path d="M401.2,321.2 v1.3" stroke="#000" stroke-width="0.6"/><path d="M401.2,206.4 v1.3" stroke="#000" stroke-width="0.6"/>
<path d="M403.2,321.2 v1.3" stroke="#000" stroke-width="0.6"/><path d="M403.2,206.4 v1.3" stroke="#000" stroke-width="0.6"/>
<path d="M404.8,321.2 v1.3" stroke="#000" stroke-width="0.6"/><path d="M404.8,206.4 v1.3" stroke="#000" stroke-width="0.6"/>
<path d="M406.3,321.2 v1.3" stroke="#000" stroke-width="0.6"/><path d="M406.3,206.4 v1.3" stroke="#000" stroke-width="0.6"/>
<path d="M407.5,321.2 v1.3" stroke="#000" stroke-width="0.6"/><path d="M407.5,206.4 v1.3" stroke="#000" stroke-width="0.6"/>
<path d="M408.7,321.2 v2.4" stroke="#000" stroke-width="0.8"/><path d="M408.7,206.4 v2.5" stroke="#000" stroke-width="0.7"/>
<path d="M416.1,321.2 v1.3" stroke="#000" stroke-width="0.6"/><path d="M416.1,206.4 v1.3" stroke="#000" stroke-width="0.6"/>
<path d="M420.5,321.2 v1.3" stroke="#000" stroke-width="0.6"/><path d="M420.5,206.4 v1.3" stroke="#000" stroke-width="0.6"/>
<path d="M423.6,321.2 v1.3" stroke="#000" stroke-width="0.6"/><path d="M423.6,206.4 v1.3" stroke="#000" stroke-width="0.6"/>
<path d="M426.0,321.2 v1.3" stroke="#000" stroke-width="0.6"/><path d="M426.0,206.4 v1.3" stroke="#000" stroke-width="0.6"/>
<path d="M428.0,321.2 v1.3" stroke="#000" stroke-width="0.6"/><path d="M428.0,206.4 v1.3" stroke="#000" stroke-width="0.6"/>
<path d="M429.6,321.2 v1.3" stroke="#000" stroke-width="0.6"/><path d="M429.6,206.4 v1.3" stroke="#000" stroke-width="0.6"/>
<path d="M431.1,321.2 v1.3" stroke="#000" stroke-width="0.6"/><path d="M431.1,206.4 v1.3" stroke="#000" stroke-width="0.6"/>
<path d="M432.3,321.2 v1.3" stroke="#000" stroke-width="0.6"/><path d="M432.3,206.4 v1.3" stroke="#000" stroke-width="0.6"/>
<path d="M433.5,321.2 v2.4" stroke="#000" stroke-width="0.8"/><path d="M433.5,206.4 v2.5" stroke="#000" stroke-width="0.7"/>
<path d="M441.0,321.2 v1.3" stroke="#000" stroke-width="0.6"/><path d="M441.0,206.4 v1.3" stroke="#000" stroke-width="0.6"/>
<path d="M445.3,321.2 v1.3" stroke="#000" stroke-width="0.6"/><path d="M445.3,206.4 v1.3" stroke="#000" stroke-width="0.6"/>
<path d="M448.4,321.2 v1.3" stroke="#000" stroke-width="0.6"/><path d="M448.4,206.4 v1.3" stroke="#000" stroke-width="0.6"/>
<path d="M450.8,321.2 v1.3" stroke="#000" stroke-width="0.6"/><path d="M450.8,206.4 v1.3" stroke="#000" stroke-width="0.6"/>
<path d="M452.8,321.2 v1.3" stroke="#000" stroke-width="0.6"/><path d="M452.8,206.4 v1.3" stroke="#000" stroke-width="0.6"/>
<path d="M454.5,321.2 v1.3" stroke="#000" stroke-width="0.6"/><path d="M454.5,206.4 v1.3" stroke="#000" stroke-width="0.6"/>
<path d="M455.9,321.2 v1.3" stroke="#000" stroke-width="0.6"/><path d="M455.9,206.4 v1.3" stroke="#000" stroke-width="0.6"/>
<path d="M457.2,321.2 v1.3" stroke="#000" stroke-width="0.6"/><path d="M457.2,206.4 v1.3" stroke="#000" stroke-width="0.6"/>
<path d="M458.3,321.2 v2.4" stroke="#000" stroke-width="0.8"/><path d="M458.3,206.4 v2.5" stroke="#000" stroke-width="0.7"/>
<text x="308.3" y="336.2" font-size="10.1" font-weight="bold" text-anchor="middle">10<tspan font-size="10.5" dy="-3.3">&#8722;12</tspan></text>
<text x="357.9" y="336.2" font-size="10.1" font-weight="bold" text-anchor="middle">10<tspan font-size="10.5" dy="-3.3">&#8722;10</tspan></text>
<text x="407.6" y="336.2" font-size="10.1" font-weight="bold" text-anchor="middle">10<tspan font-size="10.5" dy="-3.3">&#8722;8</tspan></text>
<text x="457.2" y="336.2" font-size="10.1" font-weight="bold" text-anchor="middle">10<tspan font-size="10.5" dy="-3.3">&#8722;6</tspan></text>
<text x="384.5" y="349.6" font-size="13.6" font-weight="bold" text-anchor="middle" fill="#000" >CTB Concentration (M)</text>
<text x="0" y="0" font-size="13.4" font-weight="bold" text-anchor="middle" transform="translate(286,263.5) rotate(-90)">Normalized Shift</text>
<path d="M309.40,318.62 L310.64,318.48 L311.88,318.33 L313.12,318.17 L314.36,318.00 L315.60,317.81 L316.84,317.62 L318.09,317.41 L319.33,317.19 L320.57,316.95 L321.81,316.71 L323.05,316.44 L324.29,316.16 L325.53,315.86 L326.77,315.55 L328.01,315.21 L329.25,314.85 L330.49,314.48 L331.74,314.08 L332.98,313.65 L334.22,313.21 L335.46,312.73 L336.70,312.23 L337.94,311.70 L339.18,311.14 L340.42,310.55 L341.66,309.93 L342.90,309.27 L344.14,308.58 L345.38,307.86 L346.62,307.09 L347.87,306.29 L349.11,305.44 L350.35,304.56 L351.59,303.63 L352.83,302.66 L354.07,301.65 L355.31,300.59 L356.55,299.49 L357.79,298.34 L359.03,297.15 L360.27,295.90 L361.51,294.62 L362.76,293.28 L364.00,291.90 L365.24,290.48 L366.48,289.01 L367.72,287.50 L368.96,285.95 L370.20,284.36 L371.44,282.73 L372.68,281.06 L373.92,279.37 L375.16,277.64 L376.40,275.88 L377.65,274.10 L378.89,272.30 L380.13,270.48 L381.37,268.65 L382.61,266.81 L383.85,264.96 L385.09,263.11 L386.33,261.26 L387.57,259.42 L388.81,257.58 L390.05,255.76 L391.30,253.96 L392.54,252.17 L393.78,250.41 L395.02,248.68 L396.26,246.97 L397.50,245.30 L398.74,243.67 L399.98,242.07 L401.22,240.51 L402.46,238.99 L403.70,237.51 L404.94,236.08 L406.19,234.69 L407.43,233.35 L408.67,232.05 L409.91,230.80 L411.15,229.59 L412.39,228.44 L413.63,227.32 L414.87,226.26 L416.11,225.23 L417.35,224.26 L418.59,223.32 L419.83,222.43 L421.07,221.58 L422.32,220.77 L423.56,219.99 L424.80,219.26 L426.04,218.56 L427.28,217.90 L428.52,217.27 L429.76,216.67 L431.00,216.11 L432.24,215.57 L433.48,215.07 L434.72,214.59 L435.97,214.13 L437.21,213.71 L438.45,213.30 L439.69,212.92 L440.93,212.56 L442.17,212.22 L443.41,211.90 L444.65,211.60 L445.89,211.31 L447.13,211.05 L448.37,210.79 L449.61,210.56 L450.86,210.33 L452.10,210.12 L453.34,209.93 L454.58,209.74 L455.82,209.57 L457.06,209.40 L458.30,209.25" fill="none" stroke="#000" stroke-width="2.4"/>
<circle cx="334.2" cy="313.5" r="2.5" fill="#000"/>
<circle cx="358.5" cy="288.2" r="2.5" fill="#000"/>
<path d="M358.5,283.3 V293.1 M356.5,283.3 h4 M356.5,293.1 h4" stroke="#000" stroke-width="1"/>
<circle cx="383.6" cy="267.4" r="2.5" fill="#000"/>
<path d="M383.6,265.7 V269.1 M381.6,265.7 h4 M381.6,269.1 h4" stroke="#000" stroke-width="1"/>
<circle cx="400.7" cy="240.0" r="2.5" fill="#000"/>
<path d="M400.7,230.9 V249.2 M398.7,230.9 h4 M398.7,249.2 h4" stroke="#000" stroke-width="1"/>
<circle cx="408.9" cy="232.9" r="2.5" fill="#000"/>
<path d="M408.9,223.3 V242.4 M406.9,223.3 h4 M406.9,242.4 h4" stroke="#000" stroke-width="1"/>
<circle cx="433.0" cy="217.2" r="2.5" fill="#000"/>
<path d="M433.0,213.5 V220.8 M431.0,213.5 h4 M431.0,220.8 h4" stroke="#000" stroke-width="1"/>
<text x="485.6" y="194.8" font-size="22.5" font-weight="normal" text-anchor="start" fill="#000" >g</text>
<rect x="530.5" y="214.4" width="150.70000000000005" height="116.9" fill="none" stroke="#000" stroke-width="1"/>
<text x="527" y="334.48" font-size="10.3" font-weight="bold" text-anchor="end" fill="#000" >&#8722;2000</text>
<path d="M530.5,330.7 h-2" stroke="#000" stroke-width="0.7"/><path d="M681.2,330.7 h-2" stroke="#000" stroke-width="0.7"/>
<text x="527" y="317.89" font-size="10.3" font-weight="bold" text-anchor="end" fill="#000" >&#8722;1000</text>
<path d="M530.5,314.1 h-2" stroke="#000" stroke-width="0.7"/><path d="M681.2,314.1 h-2" stroke="#000" stroke-width="0.7"/>
<text x="525.3" y="301.3" font-size="10.3" font-weight="bold" text-anchor="end" fill="#000" >0</text>
<path d="M530.5,297.5 h-2" stroke="#000" stroke-width="0.7"/><path d="M681.2,297.5 h-2" stroke="#000" stroke-width="0.7"/>
<text x="527" y="284.71000000000004" font-size="10.3" font-weight="bold" text-anchor="end" fill="#000" >1000</text>
<path d="M530.5,280.9 h-2" stroke="#000" stroke-width="0.7"/><path d="M681.2,280.9 h-2" stroke="#000" stroke-width="0.7"/>
<text x="527" y="268.12" font-size="10.3" font-weight="bold" text-anchor="end" fill="#000" >2000</text>
<path d="M530.5,264.3 h-2" stroke="#000" stroke-width="0.7"/><path d="M681.2,264.3 h-2" stroke="#000" stroke-width="0.7"/>
<text x="527" y="251.53000000000003" font-size="10.3" font-weight="bold" text-anchor="end" fill="#000" >3000</text>
<path d="M530.5,247.7 h-2" stroke="#000" stroke-width="0.7"/><path d="M681.2,247.7 h-2" stroke="#000" stroke-width="0.7"/>
<text x="527" y="234.94" font-size="10.3" font-weight="bold" text-anchor="end" fill="#000" >4000</text>
<path d="M530.5,231.1 h-2" stroke="#000" stroke-width="0.7"/><path d="M681.2,231.1 h-2" stroke="#000" stroke-width="0.7"/>
<text x="527" y="218.35000000000002" font-size="10.3" font-weight="bold" text-anchor="end" fill="#000" >5000</text>
<path d="M530.5,214.6 h-2" stroke="#000" stroke-width="0.7"/><path d="M681.2,214.6 h-2" stroke="#000" stroke-width="0.7"/>
<path d="M530.5,331.3 v1.6" stroke="#000" stroke-width="0.7"/><path d="M530.5,214.4 v2" stroke="#000" stroke-width="0.7"/>
<path d="M547.3,331.3 v1.6" stroke="#000" stroke-width="0.7"/><path d="M547.3,214.4 v2" stroke="#000" stroke-width="0.7"/>
<path d="M564.1,331.3 v1.6" stroke="#000" stroke-width="0.7"/><path d="M564.1,214.4 v2" stroke="#000" stroke-width="0.7"/>
<path d="M580.9,331.3 v1.6" stroke="#000" stroke-width="0.7"/><path d="M580.9,214.4 v2" stroke="#000" stroke-width="0.7"/>
<path d="M597.7,331.3 v1.6" stroke="#000" stroke-width="0.7"/><path d="M597.7,214.4 v2" stroke="#000" stroke-width="0.7"/>
<path d="M614.5,331.3 v1.6" stroke="#000" stroke-width="0.7"/><path d="M614.5,214.4 v2" stroke="#000" stroke-width="0.7"/>
<path d="M631.3,331.3 v1.6" stroke="#000" stroke-width="0.7"/><path d="M631.3,214.4 v2" stroke="#000" stroke-width="0.7"/>
<path d="M648.1,331.3 v1.6" stroke="#000" stroke-width="0.7"/><path d="M648.1,214.4 v2" stroke="#000" stroke-width="0.7"/>
<path d="M664.9,331.3 v1.6" stroke="#000" stroke-width="0.7"/><path d="M664.9,214.4 v2" stroke="#000" stroke-width="0.7"/>
<path d="M681.7,331.3 v1.6" stroke="#000" stroke-width="0.7"/><path d="M681.7,214.4 v2" stroke="#000" stroke-width="0.7"/>
<text x="531.1" y="343" font-size="10.2" font-weight="bold" text-anchor="middle" fill="#000" >0</text>
<text x="564.7" y="343" font-size="10.2" font-weight="bold" text-anchor="middle" fill="#000" >100</text>
<text x="598.3000000000001" y="343" font-size="10.2" font-weight="bold" text-anchor="middle" fill="#000" >200</text>
<text x="631.9" y="343" font-size="10.2" font-weight="bold" text-anchor="middle" fill="#000" >300</text>
<text x="665.5" y="343" font-size="10.2" font-weight="bold" text-anchor="middle" fill="#000" >400</text>
<text x="606.1" y="360.5" font-size="13.6" font-weight="bold" text-anchor="middle" fill="#000" >Time (s)</text>
<text x="0" y="0" font-size="13.95" font-weight="bold" text-anchor="middle" transform="translate(495.6,274.3) rotate(-90)">Wavelength Shift (fm)</text>
<clipPath id="clipg"><rect x="530.5" y="214.4" width="150.70000000000005" height="116.9"/></clipPath>
<g clip-path="url(#clipg)">
<path d="M530.90,299.69 L531.50,301.26 L532.10,299.18 L532.70,298.59 L533.30,300.39 L533.90,303.21 L534.50,302.64 L535.10,300.55 L535.70,300.64 L536.30,301.94 L536.90,304.07 L537.50,303.76 L538.10,302.76 L538.70,302.28 L539.30,302.40 L539.90,300.92 L540.50,301.17 L541.10,301.36 L541.70,303.05 L542.30,301.05 L542.90,301.49 L543.50,298.83 L544.10,301.28 L544.70,301.65 L545.30,301.28 L545.90,302.32 L546.50,304.43 L547.10,303.94 L547.70,306.10 L548.30,308.00 L548.90,309.27 L549.50,309.61 L550.10,305.57 L550.70,306.29 L551.30,305.05 L551.90,306.77 L552.50,306.09 L553.10,305.98 L553.70,306.18 L554.30,304.71 L554.90,305.06 L555.50,303.98 L556.10,307.38 L556.70,304.98 L557.30,304.71 L557.90,302.08 L558.50,301.47 L559.10,302.05 L559.70,304.42 L560.30,305.13 L560.90,304.62 L561.50,303.09 L562.10,305.90 L562.70,302.92 L563.30,302.24 L563.90,303.93 L564.50,302.55 L565.10,303.88 L565.70,305.39 L566.30,304.55 L566.90,305.00 L567.50,304.71 L568.10,303.71 L568.70,299.98 L569.30,301.44 L569.90,303.70 L570.50,302.31 L571.10,303.38 L571.70,304.90 L572.30,307.06 L572.90,304.15 L573.50,304.37 L574.10,305.56 L574.70,306.47 L575.30,304.22 L575.90,307.99 L576.50,305.68 L577.10,307.58 L577.70,306.53 L578.30,308.53 L578.90,312.71 L579.50,311.98 L580.10,310.87 L580.70,308.87 L581.30,308.60 L581.90,307.40 L582.50,311.71 L583.10,308.21 L583.70,305.53 L584.30,310.40 L584.90,311.55 L585.50,309.63 L586.10,310.58 L586.70,308.56 L587.30,308.15 L587.90,309.46 L588.50,309.72 L589.10,308.58 L589.70,311.03 L590.30,310.61 L590.90,309.59 L591.50,307.34 L592.10,308.35 L592.70,308.02 L593.30,308.20 L593.90,309.44 L594.50,307.91 L595.10,308.50 L595.70,309.33 L596.30,308.90 L596.90,311.36 L597.50,306.49 L598.10,307.03 L598.70,305.56 L599.30,306.50 L599.90,310.33 L600.50,305.78 L601.10,305.97 L601.70,307.26 L602.30,306.82 L602.90,307.72 L603.50,304.49 L604.10,306.79 L604.70,304.81 L605.30,303.65 L605.90,305.63 L606.50,306.10 L607.10,304.77 L607.70,304.41 L608.30,305.33 L608.90,306.10 L609.50,306.32 L610.10,305.40 L610.70,303.44 L611.30,308.00 L611.90,308.19 L612.50,306.47 L613.10,305.58 L613.70,306.68 L614.30,307.63 L614.90,305.75 L615.50,310.11 L616.10,310.21 L616.70,309.20 L617.30,309.78 L617.90,309.82 L618.50,310.99 L619.10,310.13 L619.70,311.38 L620.30,312.21 L620.90,309.91 L621.50,308.91 L622.10,307.96 L622.70,308.53 L623.30,308.04 L623.90,308.90 L624.50,309.61 L625.10,310.18 L625.70,308.04 L626.30,310.49 L626.90,309.44 L627.50,309.40 L628.10,308.88 L628.70,306.66 L629.30,309.09 L629.90,307.15 L630.50,310.54 L631.10,310.29 L631.70,312.37 L632.30,311.88 L632.90,311.83 L633.50,312.83 L634.10,311.22 L634.70,312.91 L635.30,311.22 L635.90,311.22 L636.50,309.96 L637.10,311.27 L637.70,311.95 L638.30,310.60 L638.90,309.09 L639.50,310.28 L640.10,311.28 L640.70,310.77 L641.30,309.42 L641.90,309.26 L642.50,309.80 L643.10,306.65 L643.70,308.37 L644.30,311.75 L644.90,309.10 L645.50,309.62 L646.10,312.43 L646.70,312.00 L647.30,312.11 L647.90,310.62 L648.50,308.41 L649.10,313.48 L649.70,311.61 L650.30,310.83 L650.90,312.48 L651.50,311.85 L652.10,310.54 L652.70,308.42 L653.30,308.97 L653.90,309.13 L654.50,308.41 L655.10,307.85 L655.70,307.43 L656.30,308.48 L656.90,308.32 L657.50,309.77 L658.10,311.22 L658.70,310.85 L659.30,310.41 L659.90,312.50 L660.50,312.06 L661.10,309.03 L661.70,309.13 L662.30,310.53 L662.90,309.62 L663.50,311.69 L664.10,309.00 L664.70,307.94 L665.30,311.70 L665.90,312.56 L666.50,309.90 L667.10,311.42 L667.70,313.82 L668.30,311.32 L668.90,310.43 L669.50,310.18 L670.10,310.49 L670.70,309.46 L671.30,310.83 L671.90,309.93 L672.50,311.71 L673.10,315.34 L673.70,311.99 L674.30,313.54 L674.90,314.42 L675.50,309.83 L676.10,311.59 L676.70,312.01 L677.30,311.68 L677.90,313.12 L678.50,311.87 L679.10,312.52 L679.70,311.68 L680.30,311.72 L680.90,310.80" fill="none" stroke="#000000" stroke-width="2.4" stroke-linejoin="round"/>
<path d="M530.90,299.10 L531.50,298.55 L532.10,301.80 L532.70,300.02 L533.30,299.02 L533.90,298.86 L534.50,297.81 L535.10,297.18 L535.70,298.13 L536.30,297.45 L536.90,298.38 L537.50,297.64 L538.10,295.86 L538.70,295.70 L539.30,296.09 L539.90,295.12 L540.50,296.66 L541.10,296.98 L541.70,298.30 L542.30,297.00 L542.90,297.16 L543.50,298.01 L544.10,298.47 L544.70,296.90 L545.30,298.85 L545.90,297.42 L546.50,298.71 L547.10,297.70 L547.70,297.22 L548.30,296.25 L548.90,297.00 L549.50,299.54 L550.10,297.23 L550.70,298.36 L551.30,298.36 L551.90,296.48 L552.50,297.11 L553.10,297.41 L553.70,295.66 L554.30,294.63 L554.90,295.69 L555.50,295.13 L556.10,296.47 L556.70,295.09 L557.30,292.31 L557.90,291.77 L558.50,289.85 L559.10,290.46 L559.70,290.01 L560.30,288.14 L560.90,286.40 L561.50,286.93 L562.10,285.24 L562.70,285.61 L563.30,282.95 L563.90,283.30 L564.50,283.92 L565.10,284.21 L565.70,288.55 L566.30,289.61 L566.90,288.26 L567.50,289.73 L568.10,288.25 L568.70,291.02 L569.30,292.07 L569.90,291.32 L570.50,291.33 L571.10,292.22 L571.70,293.02 L572.30,292.79 L572.90,292.51 L573.50,293.29 L574.10,293.68 L574.70,295.30 L575.30,295.47 L575.90,295.97 L576.50,295.19 L577.10,297.00 L577.70,298.41 L578.30,299.56 L578.90,301.13 L579.50,299.22 L580.10,296.14 L580.70,296.27 L581.30,295.09 L581.90,293.12 L582.50,295.17 L583.10,295.22 L583.70,295.79 L584.30,297.90 L584.90,301.24 L585.50,301.65 L586.10,299.72 L586.70,300.35 L587.30,299.45 L587.90,298.66 L588.50,299.11 L589.10,296.88 L589.70,295.72 L590.30,295.32 L590.90,297.35 L591.50,297.13 L592.10,297.00 L592.70,297.27 L593.30,299.06 L593.90,300.66 L594.50,299.66 L595.10,300.67 L595.70,303.47 L596.30,303.11 L596.90,302.44 L597.50,302.53 L598.10,301.88 L598.70,301.89 L599.30,301.26 L599.90,299.88 L600.50,299.45 L601.10,299.46 L601.70,298.09 L602.30,298.04 L602.90,296.73 L603.50,300.38 L604.10,303.15 L604.70,302.91 L605.30,305.70 L605.90,307.19 L606.50,308.81 L607.10,308.50 L607.70,308.09 L608.30,308.17 L608.90,305.50 L609.50,306.26 L610.10,304.77 L610.70,302.92 L611.30,302.80 L611.90,303.23 L612.50,303.88 L613.10,305.16 L613.70,305.67 L614.30,306.33 L614.90,308.75 L615.50,308.37 L616.10,310.81 L616.70,311.70 L617.30,312.08 L617.90,312.95 L618.50,313.87 L619.10,314.01 L619.70,313.47 L620.30,312.79 L620.90,310.39 L621.50,308.99 L622.10,310.51 L622.70,309.69 L623.30,309.07 L623.90,308.84 L624.50,307.46 L625.10,309.17 L625.70,308.12 L626.30,307.91 L626.90,307.10 L627.50,308.84 L628.10,309.42 L628.70,310.50 L629.30,310.43 L629.90,308.86 L630.50,308.01 L631.10,310.40 L631.70,309.38 L632.30,309.70 L632.90,309.90 L633.50,310.73 L634.10,311.20 L634.70,309.95 L635.30,310.03 L635.90,309.11 L636.50,311.10 L637.10,311.20 L637.70,309.84 L638.30,312.11 L638.90,312.01 L639.50,311.07 L640.10,311.42 L640.70,311.47 L641.30,312.26 L641.90,312.73 L642.50,312.23 L643.10,312.96 L643.70,310.19 L644.30,311.34 L644.90,312.64 L645.50,313.32 L646.10,313.35 L646.70,311.51 L647.30,310.18 L647.90,310.95 L648.50,313.69 L649.10,312.64 L649.70,311.23 L650.30,309.77 L650.90,310.96 L651.50,310.73 L652.10,311.50 L652.70,311.41 L653.30,308.41 L653.90,308.67 L654.50,308.98 L655.10,307.10 L655.70,305.19 L656.30,303.89 L656.90,302.62 L657.50,304.90 L658.10,304.60 L658.70,303.66 L659.30,305.81 L659.90,304.79 L660.50,305.50 L661.10,306.12 L661.70,307.44 L662.30,309.29 L662.90,311.82 L663.50,312.03 L664.10,311.86 L664.70,312.62 L665.30,312.65 L665.90,313.08 L666.50,312.04 L667.10,312.75 L667.70,313.20 L668.30,313.83 L668.90,312.34 L669.50,313.02 L670.10,313.12 L670.70,312.11 L671.30,310.64 L671.90,311.49 L672.50,313.15 L673.10,312.63 L673.70,315.17 L674.30,315.15 L674.90,314.44 L675.50,315.32 L676.10,316.71 L676.70,317.75 L677.30,317.96 L677.90,319.23 L678.50,322.61 L679.10,322.37 L679.70,322.10 L680.30,321.93 L680.90,321.15" fill="none" stroke="#2350f5" stroke-width="2.4" stroke-linejoin="round"/>
<path d="M530.90,299.82 L531.50,297.80 L532.10,297.51 L532.70,296.69 L533.30,295.67 L533.90,295.09 L534.50,294.53 L535.10,294.18 L535.70,293.94 L536.30,293.70 L536.90,292.70 L537.50,292.38 L538.10,291.43 L538.70,290.43 L539.30,289.43 L539.90,288.19 L540.50,286.95 L541.10,286.89 L541.70,285.91 L542.30,284.63 L542.90,283.13 L543.50,280.67 L544.10,279.07 L544.70,277.23 L545.30,276.71 L545.90,275.09 L546.50,273.75 L547.10,271.81 L547.70,270.02 L548.30,268.88 L548.90,267.20 L549.50,265.28 L550.10,261.98 L550.70,260.32 L551.30,258.25 L551.90,257.32 L552.50,256.48 L553.10,255.50 L553.70,255.02 L554.30,254.46 L554.90,253.34 L555.50,248.37 L556.10,244.35 L556.70,243.65 L557.30,243.16 L557.90,242.15 L558.50,240.30 L559.10,239.98 L559.70,239.81 L560.30,240.22 L560.90,238.66 L561.50,233.60 L562.10,231.87 L562.70,231.41 L563.30,232.21 L563.90,233.05 L564.50,232.98 L565.10,231.55 L565.70,231.84 L566.30,231.11 L566.90,228.89 L567.50,227.27 L568.10,224.54 L568.70,224.36 L569.30,225.92 L569.90,227.04 L570.50,226.65 L571.10,226.17 L571.70,226.81 L572.30,226.17 L572.90,225.51 L573.50,224.64 L574.10,226.39 L574.70,225.44 L575.30,224.95 L575.90,226.20 L576.50,227.22 L577.10,227.25 L577.70,228.45 L578.30,228.37 L578.90,228.64 L579.50,229.00 L580.10,228.69 L580.70,229.16 L581.30,230.64 L581.90,229.48 L582.50,229.68 L583.10,229.87 L583.70,229.31 L584.30,229.35 L584.90,228.39 L585.50,228.73 L586.10,229.08 L586.70,229.77 L587.30,229.87 L587.90,229.02 L588.50,228.39 L589.10,229.77 L589.70,229.70 L590.30,228.06 L590.90,228.13 L591.50,227.62 L592.10,227.41 L592.70,226.52 L593.30,226.73 L593.90,226.55 L594.50,226.45 L595.10,226.93 L595.70,227.96 L596.30,229.06 L596.90,230.43 L597.50,232.86 L598.10,234.14 L598.70,232.77 L599.30,230.37 L599.90,229.45 L600.50,227.66 L601.10,225.38 L601.70,226.78 L602.30,227.65 L602.90,228.05 L603.50,229.25 L604.10,230.68 L604.70,231.82 L605.30,230.46 L605.90,230.49 L606.50,230.17 L607.10,229.81 L607.70,228.82 L608.30,229.66 L608.90,229.77 L609.50,230.43 L610.10,230.57 L610.70,231.62 L611.30,231.90 L611.90,232.69 L612.50,232.65 L613.10,233.38 L613.70,233.77 L614.30,233.92 L614.90,234.76 L615.50,235.01 L616.10,235.30 L616.70,236.07 L617.30,236.48 L617.90,238.39 L618.50,239.15 L619.10,239.29 L619.70,239.43 L620.30,238.81 L620.90,239.50 L621.50,239.03 L622.10,239.58 L622.70,240.12 L623.30,240.63 L623.90,241.77 L624.50,241.49 L625.10,243.46 L625.70,242.73 L626.30,243.42 L626.90,242.48 L627.50,243.75 L628.10,243.19 L628.70,243.99 L629.30,244.36 L629.90,245.15 L630.50,245.50 L631.10,245.70 L631.70,245.66 L632.30,247.03 L632.90,246.34 L633.50,246.57 L634.10,246.57 L634.70,247.11 L635.30,246.87 L635.90,247.30 L636.50,248.16 L637.10,248.05 L637.70,248.79 L638.30,248.66 L638.90,249.94 L639.50,249.60 L640.10,250.56 L640.70,250.24 L641.30,249.83 L641.90,250.35 L642.50,250.71 L643.10,251.09 L643.70,251.21 L644.30,251.02 L644.90,249.84 L645.50,250.67 L646.10,250.44 L646.70,250.69 L647.30,251.32 L647.90,250.47 L648.50,251.39 L649.10,252.37 L649.70,251.72 L650.30,251.06 L650.90,251.84 L651.50,251.49 L652.10,251.92 L652.70,252.23 L653.30,250.83 L653.90,251.44 L654.50,250.66 L655.10,250.90 L655.70,251.78 L656.30,251.13 L656.90,251.10 L657.50,251.19 L658.10,251.62 L658.70,251.74 L659.30,251.80 L659.90,251.25 L660.50,250.87 L661.10,251.36 L661.70,250.76 L662.30,250.55 L662.90,251.29 L663.50,250.66 L664.10,250.34 L664.70,251.33 L665.30,250.98 L665.90,249.57 L666.50,249.88 L667.10,251.48 L667.70,252.50 L668.30,251.04 L668.90,251.05 L669.50,251.04 L670.10,250.74 L670.70,249.31 L671.30,250.31 L671.90,250.15 L672.50,249.71 L673.10,248.68 L673.70,248.78 L674.30,249.01 L674.90,248.92 L675.50,249.06 L676.10,248.67 L676.70,249.22 L677.30,249.10 L677.90,247.96 L678.50,247.78 L679.10,248.19 L679.70,247.69 L680.30,248.53 L680.90,247.63" fill="none" stroke="#f23a3a" stroke-width="2.4" stroke-linejoin="round"/>
</g>
<path d="M534,195.7 H554.2" stroke="#f23a3a" stroke-width="3.3" stroke-linecap="round"/>
<text x="557.6" y="198.8" font-size="10.7" font-weight="bold" text-anchor="start" fill="#000" >100 nM CTB</text>
<path d="M534,206.6 H554.2" stroke="#2350f5" stroke-width="3.3" stroke-linecap="round"/>
<text x="557.6" y="209.5" font-size="10.7" font-weight="bold" text-anchor="start" fill="#000" >100 nM hCG</text>
<path d="M628,206.3 H647.4" stroke="#000" stroke-width="3.3" stroke-linecap="round"/>
<text x="651" y="209.2" font-size="10.6" font-weight="bold" text-anchor="start" fill="#000" >Buffer</text>
</svg></body></html>
